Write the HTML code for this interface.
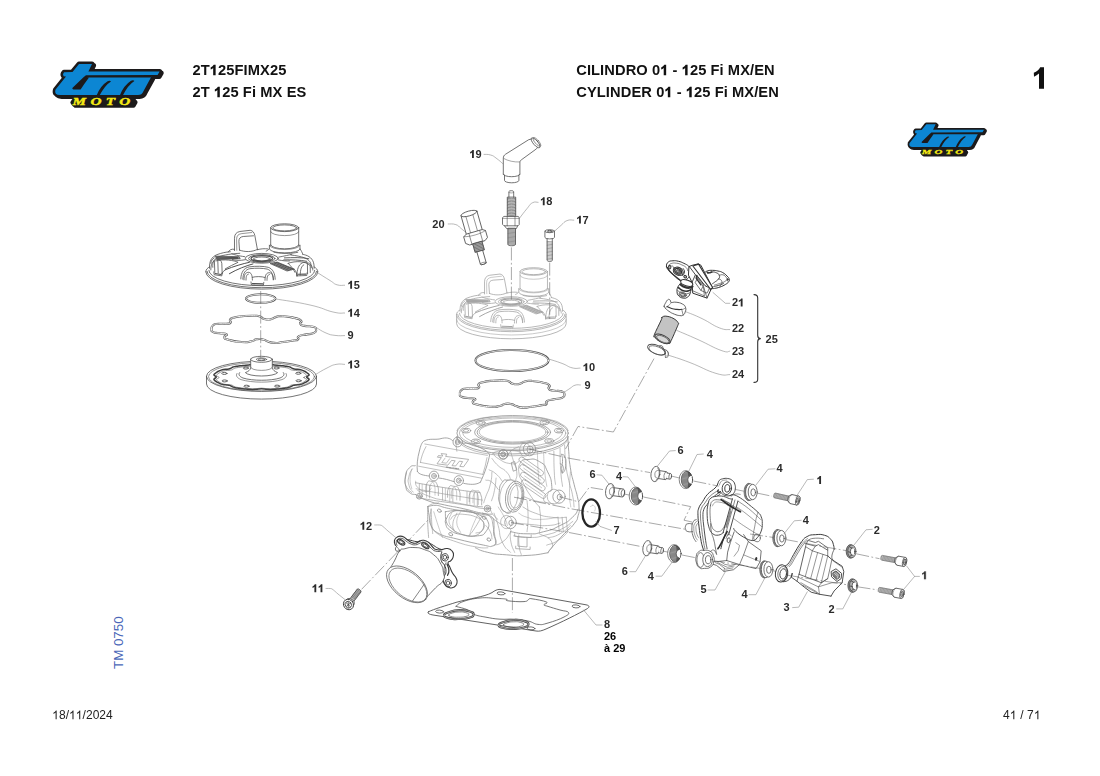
<!DOCTYPE html>
<html>
<head>
<meta charset="utf-8">
<title>CILINDRO 01 - 125 Fi MX/EN</title>
<style>
html,body{margin:0;padding:0;background:#fff;}
body{width:1100px;height:776px;position:relative;overflow:hidden;font-family:"Liberation Sans",sans-serif;color:#000;}
.t{position:absolute;white-space:nowrap;line-height:1;}
.h{font-weight:bold;font-size:14.67px;color:#111;}
.f{font-size:12px;color:#222;}
#pg{font-weight:bold;font-size:30px;color:#111;}
#tm{font-size:13.33px;color:#4a67b8;transform-origin:0 0;transform:rotate(-90deg);}
svg{position:absolute;left:0;top:0;}
.lb{stroke:none;font-family:"Liberation Sans",sans-serif;font-weight:bold;}
</style>
</head>
<body>
<div class="t" id="tm" style="left:112px;top:669px;">TM 0750</div>

<svg width="1100" height="776" viewBox="0 0 1100 776">
<defs>
<g id="logo">
  <!-- black outline + shadow -->
  <g fill="#1c1a1b" stroke="#1c1a1b" stroke-linejoin="round" stroke-linecap="round">
    <path id="lgo" stroke-width="5" d="M31,8 L44,8 L40.4,15.5 L111.6,15.5 L109.6,19 L104,19 L102.9,21.6 L95.3,35.5 Q94,39 90,39 L12,39 Q6,39 7.4,33.8 L18,20.6 L15.6,20.3 Q14.2,18 16,16.2 L24.5,15.9 Z"/>
    <path stroke-width="5" transform="translate(1.6,1.4)" d="M31,8 L44,8 L40.4,15.5 L111.6,15.5 L109.6,19 L104,19 L102.9,21.6 L95.3,35.5 Q94,39 90,39 L12,39 Q6,39 7.4,33.8 L18,20.6 L15.6,20.3 Q14.2,18 16,16.2 L24.5,15.9 Z"/>
    <path stroke-width="4.2" d="M27,43 L84,43 L86,45 L84,48.5 L26,48.5 L24.5,46.5 Z"/>
    <path stroke-width="4.2" transform="translate(1.5,1.2)" d="M27,43 L84,43 L86,45 L84,48.5 L26,48.5 L24.5,46.5 Z"/>
  </g>
  <path fill="#0c86d3" d="M31,8 L44,8 L40.4,15.5 L111.6,15.5 L109.6,19 L104,19 L102.9,21.6 L95.3,35.5 Q94,39 90,39 L12,39 Q6,39 7.4,33.8 L18,20.6 L15.6,20.3 Q14.2,18 16,16.2 L24.5,15.9 Z"/>
  <g fill="#1c1a1b" stroke="#1c1a1b" stroke-linecap="round">
    <path stroke="none" d="M37.8,19.2 L104.5,18.9 L103.2,21.5 L36,21.5 Z"/>
    <path stroke="none" d="M36.3,20.6 L41,21.4 Q36,28 32.6,33.6 L25.5,33.4 Q23.5,33 24.6,31.8 Z"/>
    <path stroke="none" d="M63,25.4 Q57,29 51.5,39.6 L48.6,39.6 Q52,30 59.6,25.2 Q62,24.2 63,25.4 Z"/>
    <path stroke="none" d="M86.4,25 Q80,29 74.8,39.6 L71.8,39.6 Q75.5,29.6 83,24.8 Q85.4,23.8 86.4,25 Z"/>
  </g>
  <g font-family="Liberation Serif, serif" font-weight="bold" font-style="italic" font-size="9.4" fill="#f5ea14" stroke="none">
    <text transform="translate(24.4,48.8) scale(1.62,1)" letter-spacing="2.75" stroke="#f5ea14" stroke-width="0.35">MOTO</text>
  </g>
</g>
</defs>

<path fill="#111" d="M1044,88.7 L1039,88.7 L1039,73.6 Q1036.7,75.7 1034,76.8 L1033.8,72.8 Q1038.4,71 1040.2,67.2 L1044,67.2 Z"/>
<!-- logos -->
<use href="#logo" transform="translate(48,56)"/>
<use href="#logo" transform="translate(904.2,118.4) scale(0.715,0.735)"/>

<!-- DIAGRAM -->
<g id="dia" fill="none" stroke="#505050" stroke-width="0.8" stroke-linecap="round" stroke-linejoin="round">
<g transform="translate(261.8,258.3)"><g stroke="#505050" stroke-width="0.8" fill="none"><path d="M-56,13.6 A56,17.2 0 0 0 56,13.6"/>
<path d="M-54.8,13 A54.8,16.4 0 0 0 54.8,13"/>
<path d="M-53,12 A53,15.4 0 0 0 53,12"/>
<path d="M-56,13.6 C-56,11.2 -54.5,9.8 -52.3,8.6 M56,13.6 C56,11.2 54.5,9.8 52.3,8.6"/>
<path d="M-52.3,10 C-52.6,3 -50.5,-1.2 -45,-3.6 C-40,-5.4 -36,-6.3 -31.5,-6.6"/>
<path d="M52.3,10 C52.6,3.6 50.5,-0.2 45.5,-2.6 C43,-3.6 41.8,-3.8 41,-4"/>
<path d="M-4.4,-8.6 C-1,-9.6 3,-9.8 6,-9.4"/>
<path d="M-49,9 C-49.5,3.5 -47.5,0.4 -43,-1.6 C-38,-3.4 -30,-4.6 -22,-5"/>
<path d="M49.5,9.5 C49.8,4.5 47.6,1.6 43,-0.4 C39,-1.8 34,-2.8 29,-3.3"/>
<ellipse cx="0" cy="0" rx="16.5" ry="4.9"/>
<ellipse cx="0" cy="0.2" rx="13.2" ry="3.9"/>
<ellipse cx="0" cy="0.3" rx="10.8" ry="3" stroke-width="1.1"/>
<ellipse cx="0" cy="0.8" rx="8.6" ry="2.1"/>
<path d="M-7.5,1.6 A8.4,2 0 0 0 7.5,1.6" stroke-width="1.2"/>
<path d="M-17,-1.6 C-24,-2.6 -28,-3.6 -30,-4.6 M17,-1.2 C23,-2.4 27,-3.2 30,-4"/>
<path d="M-16.4,1.4 C-22,2.4 -26,2.4 -29.5,1.2 M16.4,1.6 C21,2.4 25,3 28,2.6"/>
<path d="M-46.5,-2.2 L-22.6,-1.6 L-21.6,0.4 L-44,1.2 Z" fill="#505050" fill-opacity="0.55"/>
<path d="M-45.5,-1.2 L-24,-0.7 M-45,0 L-24,0.1" stroke-width="1.0"/>
<path d="M-47.6,-0.4 C-49.6,0.6 -50.6,2.6 -51,5"/>
<path d="M22.6,-0.4 C31,-0.8 40,-1 47,0.4 M22,1.6 C30,1.4 38,1.6 45,3" stroke-width="0.9"/>
<path d="M-12.4,4 C-19,5.4 -28,8 -36.4,11.4 M-8.8,5.6 C-15,7.2 -25,11 -32.4,15.4" stroke-width="1.0"/>
<path d="M-36.4,11.4 C-38,12.4 -39.4,14 -40.2,15.6"/>
<path d="M-45.9,2.6 C-42,1.6 -37,1.4 -33.4,1.8 C-29,2.2 -25.6,3 -23.7,4 C-28,6 -33,8.4 -36.6,10.6"/>
<path d="M26.3,5 C30,3.6 34.6,3.2 38.2,3.4 C42,3.6 45.6,4.8 47.9,6.9 M26.3,5 C29,7.6 31.6,10.6 33.1,14"/>
<path d="M8.7,5.2 L15.4,3.8 L32.4,10.8 L25.6,12.6 Z" fill="#505050" fill-opacity="0.6"/>
<path d="M10.4,5.4 L27,12 M12.6,4.8 L29.2,11.4 M14.6,4.2 L31,10.8" stroke-width="0.9"/>
<path d="M32.4,10.8 C34,12.6 35,15 35.4,17.4"/>
<path d="M-21,20.6 C-20.8,14 -18,9.6 -12.6,8.6 C-6,7.6 2,7.8 6.4,9 C11,10.4 13.2,15 13.4,21"/>
<path d="M-19,20.9 C-18.8,15 -16.4,11.2 -12,10.4 C-6,9.6 1,9.8 5.4,10.8 C9.4,12 11.4,16 11.6,21.2"/>
<path d="M-17.8,21.6 C-17.8,16.6 -16.6,14.4 -13.6,14 C-10.6,14 -9.5,16.6 -9.4,21.8"/>
<path d="M3.2,22 C3.2,16.8 4.4,14.6 7.4,14.4 C10.4,14.6 11.4,17 11.5,21.6"/>
<path d="M-15.8,21.8 C-15.8,17.6 -15,16 -13.4,15.8 M5.2,22 C5.2,18 6,16.4 7.6,16.2"/>
<path d="M-9.5,19 C-6,18 0,18 3.2,19.2"/>
<path d="M-10.8,23.6 L-10.4,26.6 L1.6,27 L2,24"/>
<path d="M-9.4,25.2 L0.8,25.6" stroke-width="1.1"/>
<path d="M-51,11.6 C-51,5.6 -49,1.8 -45,1.2 C-42,1 -40.4,2.4 -40,5 L-39.6,15.6"/>
<path d="M-47.4,3 L-47,14 M-44,2.2 L-43.6,14.6"/>
<path d="M-48,13.6 L-47.6,16.4 L-40,17.6 L-39.8,14.8"/>
<path d="M-46.6,15.2 L-40.8,16.2" stroke-width="1.1"/>
<path d="M35,18 C35.2,11 36.6,6.6 40.4,4.6 C44,3.2 47.4,4.4 49.4,7 C50.6,9 51,10.4 51,11.8"/>
<path d="M38.4,16.8 C38.6,11 39.6,7.8 42,6.4 M45.6,5.2 L45.8,15.4 M48.4,6.6 L48.5,14.2"/>
<path d="M35,14.8 L35.2,17.6 L45,17.2 L45.2,14.6"/>
<path d="M36.4,16 L44,15.8" stroke-width="1.1"/>
<ellipse cx="22.9" cy="-30.6" rx="14" ry="3.9"/>
<ellipse cx="22.9" cy="-30.4" rx="12" ry="3"/>
<path d="M8.9,-30.6 L8.9,-12.8 M36.9,-30.6 L36.9,-12.8"/>
<path d="M8.9,-26.6 A14,3.9 0 0 0 36.9,-26.6" stroke-width="0.6"/>
<path d="M8.9,-13.4 A14,3.9 0 0 0 36.9,-13.4"/>
<path d="M7.6,-13 L7.6,-9.6 A15.3,4.2 0 0 0 38.2,-9.6 L38.2,-13"/>
<path d="M7.6,-13 A15.3,4.2 0 0 0 38.2,-13" stroke-width="0.6"/>
<path d="M7.6,-9.6 C6.6,-8.4 5.4,-7.6 4.4,-7.2 M38.2,-9.6 C39.4,-7.6 40.6,-5.6 41,-4"/>
<path d="M12,-6.2 C17,-4.6 29,-4.4 36,-6"/>
<path d="M-27.3,-7.7 L-27.3,-20 C-27.3,-24 -25.6,-26 -22,-26.8 L-11.6,-28 C-9,-27.8 -7.6,-25.6 -7,-22.9 L-4.4,-8.9"/>
<path d="M-22.3,-8.2 L-22.9,-17 C-23,-20 -21.4,-21.4 -18.6,-21.8 L-8.3,-22.5"/>
<path d="M-25,-8 L-25.2,-19 C-25.2,-22.6 -23.6,-24 -20.6,-24.6 L-10,-25.8" stroke-width="0.6"/>
<path d="M-22.3,-8.2 C-17,-6.2 -10,-6 -4.4,-8.9"/>
<path d="M-27.3,-9 C-30,-9.6 -32.6,-8.6 -33.6,-6.2"/></g></g>
<ellipse cx="260.7" cy="298.6" rx="14.7" ry="4.25" stroke="#505050" stroke-width="2.0"/><ellipse cx="260.7" cy="298.6" rx="14.7" ry="4.25" stroke="#fff" stroke-width="0.8"/>
<path d="M211.56,329.3 C211.56,327.01 210.85,327.01 213.2,325.21 C215.55,323.41 214.24,324.39 218.6,323.9 C222.96,323.41 222.31,324.12 226.29,323.74 C230.27,323.36 229.24,324.17 230.55,322.76 C231.86,321.34 228.91,321.23 230.22,319.48 C231.53,317.74 230.44,318.61 234.47,317.52 C238.51,316.43 235.89,316.81 242.33,316.21 C248.76,315.61 247.89,315.61 253.78,315.72 C259.67,315.83 256.73,315.5 260,316.54 C263.27,317.57 260.98,317.85 263.6,318.83 C266.22,319.81 265.02,319.48 267.86,319.48 C270.69,319.48 269.27,319.7 272.11,318.83 C274.95,317.96 272.66,317.74 276.37,316.86 C280.07,315.99 277.4,315.88 283.24,316.21 C289.07,316.54 287.98,316.43 293.87,317.85 C299.77,319.26 298.78,318.5 300.91,320.46 C303.04,322.43 299.06,321.94 300.26,323.74 C301.46,325.54 300.26,324.88 304.51,325.86 C308.77,326.85 309.2,325.54 313.02,326.68 C316.84,327.83 315.64,327.23 315.97,329.3 C316.29,331.37 316.95,331.21 314,332.9 C311.06,334.59 312.15,333.28 307.13,334.37 C302.11,335.46 302,334.48 298.95,336.17 C295.89,337.86 299.82,338.03 297.97,339.45 C296.11,340.86 298.29,339.56 293.38,340.43 C288.47,341.3 289.62,341.25 283.24,342.06 C276.86,342.88 279.37,343.1 274.24,342.88 C269.11,342.66 271.62,342.56 267.86,341.41 C264.09,340.26 266.77,340.16 262.95,339.45 C259.13,338.74 260.22,338.68 256.4,339.28 C252.58,339.88 256.46,340.32 251.49,341.25 C246.53,342.17 249.15,342.56 241.51,342.06 C233.87,341.57 234.31,341.41 228.58,339.77 C222.86,338.14 224.98,339.01 224.33,337.16 C223.67,335.3 228.26,335.52 226.62,334.21 C224.98,332.9 223.89,333.94 219.42,333.23 C214.95,332.52 215.82,333.39 213.2,332.08 C210.58,330.77 211.56,331.59 211.56,329.3 Z" stroke="#5c5c5c" stroke-width="2.1" fill="none"/><path d="M211.56,329.3 C211.56,327.01 210.85,327.01 213.2,325.21 C215.55,323.41 214.24,324.39 218.6,323.9 C222.96,323.41 222.31,324.12 226.29,323.74 C230.27,323.36 229.24,324.17 230.55,322.76 C231.86,321.34 228.91,321.23 230.22,319.48 C231.53,317.74 230.44,318.61 234.47,317.52 C238.51,316.43 235.89,316.81 242.33,316.21 C248.76,315.61 247.89,315.61 253.78,315.72 C259.67,315.83 256.73,315.5 260,316.54 C263.27,317.57 260.98,317.85 263.6,318.83 C266.22,319.81 265.02,319.48 267.86,319.48 C270.69,319.48 269.27,319.7 272.11,318.83 C274.95,317.96 272.66,317.74 276.37,316.86 C280.07,315.99 277.4,315.88 283.24,316.21 C289.07,316.54 287.98,316.43 293.87,317.85 C299.77,319.26 298.78,318.5 300.91,320.46 C303.04,322.43 299.06,321.94 300.26,323.74 C301.46,325.54 300.26,324.88 304.51,325.86 C308.77,326.85 309.2,325.54 313.02,326.68 C316.84,327.83 315.64,327.23 315.97,329.3 C316.29,331.37 316.95,331.21 314,332.9 C311.06,334.59 312.15,333.28 307.13,334.37 C302.11,335.46 302,334.48 298.95,336.17 C295.89,337.86 299.82,338.03 297.97,339.45 C296.11,340.86 298.29,339.56 293.38,340.43 C288.47,341.3 289.62,341.25 283.24,342.06 C276.86,342.88 279.37,343.1 274.24,342.88 C269.11,342.66 271.62,342.56 267.86,341.41 C264.09,340.26 266.77,340.16 262.95,339.45 C259.13,338.74 260.22,338.68 256.4,339.28 C252.58,339.88 256.46,340.32 251.49,341.25 C246.53,342.17 249.15,342.56 241.51,342.06 C233.87,341.57 234.31,341.41 228.58,339.77 C222.86,338.14 224.98,339.01 224.33,337.16 C223.67,335.3 228.26,335.52 226.62,334.21 C224.98,332.9 223.89,333.94 219.42,333.23 C214.95,332.52 215.82,333.39 213.2,332.08 C210.58,330.77 211.56,331.59 211.56,329.3 Z" stroke="#fff" stroke-width="0.95" fill="none"/>
<g><ellipse cx="261.5" cy="376.3" rx="55" ry="15.1"/>
<path d="M206.5,376.3 L206.5,384 A55,15.1 0 0 0 316.5,384 L316.5,376.3"/>
<ellipse cx="261.5" cy="376.7" rx="53" ry="14.2" stroke-width="0.6"/>
<path d="M306.61,377.1 C306.61,377.36 307,377.61 307.36,377.88 C307.71,378.15 308.46,378.44 308.74,378.72 C309.03,379 309.13,379.28 309.07,379.56 C309,379.83 308.62,380.1 308.35,380.36 C308.07,380.63 307.77,380.89 307.43,381.15 C307.09,381.41 306.71,381.67 306.31,381.92 C305.9,382.18 305.47,382.43 305,382.67 C304.53,382.92 304.03,383.16 303.5,383.4 C302.97,383.64 302.53,383.89 301.83,384.1 C301.13,384.31 300.27,384.49 299.3,384.64 C298.34,384.78 297.03,384.85 296.05,384.97 C295.06,385.1 294.1,385.2 293.39,385.39 C292.69,385.57 292.28,385.82 291.8,386.08 C291.32,386.33 291.07,386.67 290.51,386.92 C289.95,387.17 289.24,387.39 288.45,387.58 C287.65,387.76 286.67,387.87 285.75,388.01 C284.83,388.15 283.9,388.28 282.95,388.4 C282,388.52 281.04,388.64 280.06,388.74 C279.08,388.85 278.09,388.94 277.09,389.03 C276.09,389.12 275.07,389.2 274.05,389.27 C273.03,389.34 272.02,389.44 270.96,389.46 C269.91,389.48 268.8,389.45 267.72,389.37 C266.64,389.3 265.54,389.11 264.51,389.01 C263.47,388.92 262.5,388.82 261.5,388.82 C260.5,388.82 259.53,388.92 258.49,389.01 C257.46,389.11 256.36,389.3 255.28,389.37 C254.2,389.45 253.09,389.48 252.04,389.46 C250.98,389.44 249.97,389.34 248.95,389.27 C247.93,389.2 246.91,389.12 245.91,389.03 C244.91,388.94 243.92,388.85 242.94,388.74 C241.96,388.64 241,388.52 240.05,388.4 C239.1,388.28 238.17,388.15 237.25,388.01 C236.33,387.87 235.35,387.76 234.55,387.58 C233.76,387.39 233.05,387.17 232.49,386.92 C231.93,386.67 231.68,386.33 231.2,386.08 C230.72,385.82 230.31,385.57 229.61,385.39 C228.9,385.2 227.94,385.1 226.95,384.97 C225.97,384.85 224.66,384.78 223.7,384.64 C222.73,384.49 221.87,384.31 221.17,384.1 C220.47,383.89 220.03,383.64 219.5,383.4 C218.97,383.16 218.47,382.92 218,382.67 C217.53,382.43 217.1,382.18 216.69,381.92 C216.29,381.67 215.91,381.41 215.57,381.15 C215.23,380.89 214.93,380.63 214.65,380.36 C214.38,380.1 214,379.83 213.93,379.56 C213.87,379.28 213.97,379 214.26,378.72 C214.54,378.44 215.29,378.15 215.64,377.88 C216,377.61 216.4,377.36 216.4,377.1 C216.4,376.84 216,376.59 215.64,376.32 C215.29,376.05 214.54,375.76 214.26,375.48 C213.97,375.2 213.87,374.92 213.93,374.64 C214,374.37 214.38,374.1 214.65,373.84 C214.93,373.57 215.23,373.31 215.57,373.05 C215.91,372.79 216.29,372.53 216.69,372.28 C217.1,372.02 217.53,371.77 218,371.53 C218.47,371.28 218.97,371.04 219.5,370.8 C220.03,370.56 220.47,370.31 221.17,370.1 C221.87,369.89 222.73,369.71 223.7,369.56 C224.66,369.42 225.97,369.35 226.95,369.23 C227.94,369.1 228.9,369 229.61,368.81 C230.31,368.63 230.72,368.38 231.2,368.12 C231.68,367.87 231.93,367.53 232.49,367.28 C233.05,367.03 233.76,366.81 234.55,366.62 C235.35,366.44 236.33,366.33 237.25,366.19 C238.17,366.05 239.1,365.92 240.05,365.8 C241,365.68 241.96,365.56 242.94,365.46 C243.92,365.35 244.91,365.26 245.91,365.17 C246.91,365.08 247.93,365 248.95,364.93 C249.97,364.86 250.98,364.76 252.04,364.74 C253.09,364.72 254.2,364.75 255.28,364.83 C256.36,364.9 257.46,365.09 258.49,365.19 C259.53,365.28 260.5,365.38 261.5,365.38 C262.5,365.38 263.47,365.28 264.51,365.19 C265.54,365.09 266.64,364.9 267.72,364.83 C268.8,364.75 269.91,364.72 270.96,364.74 C272.02,364.76 273.03,364.86 274.05,364.93 C275.07,365 276.09,365.08 277.09,365.17 C278.09,365.26 279.08,365.35 280.06,365.46 C281.04,365.56 282,365.68 282.95,365.8 C283.9,365.92 284.83,366.05 285.75,366.19 C286.67,366.33 287.65,366.44 288.45,366.62 C289.24,366.81 289.95,367.03 290.51,367.28 C291.07,367.53 291.32,367.87 291.8,368.12 C292.28,368.38 292.69,368.63 293.39,368.81 C294.1,369 295.06,369.1 296.05,369.23 C297.03,369.35 298.34,369.42 299.3,369.56 C300.27,369.71 301.13,369.89 301.83,370.1 C302.53,370.31 302.97,370.56 303.5,370.8 C304.03,371.04 304.53,371.28 305,371.53 C305.47,371.77 305.9,372.02 306.31,372.28 C306.71,372.53 307.09,372.79 307.43,373.05 C307.77,373.31 308.07,373.57 308.35,373.84 C308.62,374.1 309,374.37 309.07,374.64 C309.13,374.92 309.03,375.2 308.74,375.48 C308.46,375.76 307.71,376.05 307.36,376.32 C307,376.59 306.61,376.84 306.61,377.1 Z" stroke-width="1.5" stroke="#3f3f3f"/>
<path d="M303.82,377.5 C303.82,377.74 304.25,377.97 304.65,378.21 C305.04,378.46 305.87,378.73 306.19,378.98 C306.52,379.24 306.66,379.51 306.62,379.76 C306.57,380.02 306.19,380.26 305.93,380.5 C305.67,380.75 305.38,380.99 305.06,381.23 C304.74,381.47 304.38,381.71 304,381.94 C303.61,382.17 303.2,382.4 302.76,382.63 C302.31,382.86 301.84,383.08 301.34,383.3 C300.84,383.52 300.43,383.76 299.75,383.94 C299.07,384.13 298.22,384.3 297.26,384.42 C296.31,384.54 294.98,384.59 294.01,384.69 C293.04,384.79 292.09,384.88 291.42,385.05 C290.76,385.21 290.42,385.45 290.01,385.7 C289.6,385.94 289.44,386.28 288.94,386.52 C288.45,386.76 287.8,386.97 287.06,387.15 C286.32,387.32 285.37,387.42 284.5,387.55 C283.63,387.67 282.74,387.79 281.85,387.9 C280.95,388.02 280.03,388.12 279.1,388.22 C278.18,388.31 277.24,388.4 276.29,388.48 C275.34,388.57 274.37,388.64 273.41,388.7 C272.44,388.77 271.48,388.87 270.47,388.88 C269.47,388.89 268.41,388.85 267.38,388.77 C266.36,388.69 265.31,388.48 264.33,388.38 C263.35,388.28 262.44,388.17 261.5,388.17 C260.56,388.17 259.65,388.28 258.67,388.38 C257.69,388.48 256.64,388.69 255.62,388.77 C254.59,388.85 253.53,388.89 252.53,388.88 C251.52,388.87 250.56,388.77 249.59,388.7 C248.63,388.64 247.66,388.57 246.71,388.48 C245.76,388.4 244.82,388.31 243.9,388.22 C242.97,388.12 242.05,388.02 241.15,387.9 C240.26,387.79 239.37,387.67 238.5,387.55 C237.63,387.42 236.68,387.32 235.94,387.15 C235.2,386.97 234.55,386.76 234.06,386.52 C233.56,386.28 233.4,385.94 232.99,385.7 C232.58,385.45 232.24,385.21 231.58,385.05 C230.91,384.88 229.96,384.79 228.99,384.69 C228.02,384.59 226.69,384.54 225.74,384.42 C224.78,384.3 223.93,384.13 223.25,383.94 C222.57,383.76 222.16,383.52 221.66,383.3 C221.16,383.08 220.69,382.86 220.24,382.63 C219.8,382.4 219.39,382.17 219,381.94 C218.62,381.71 218.26,381.47 217.94,381.23 C217.62,380.99 217.33,380.75 217.07,380.5 C216.81,380.26 216.43,380.02 216.38,379.76 C216.34,379.51 216.48,379.24 216.81,378.98 C217.13,378.73 217.96,378.46 218.35,378.21 C218.75,377.97 219.18,377.74 219.18,377.5 C219.18,377.26 218.75,377.03 218.35,376.79 C217.96,376.54 217.13,376.27 216.81,376.02 C216.48,375.76 216.34,375.49 216.38,375.24 C216.43,374.98 216.81,374.74 217.07,374.5 C217.33,374.25 217.62,374.01 217.94,373.77 C218.26,373.53 218.62,373.29 219,373.06 C219.39,372.83 219.8,372.6 220.24,372.37 C220.69,372.14 221.16,371.92 221.66,371.7 C222.16,371.48 222.57,371.24 223.25,371.06 C223.93,370.87 224.78,370.7 225.74,370.58 C226.69,370.46 228.02,370.41 228.99,370.31 C229.96,370.21 230.91,370.12 231.58,369.95 C232.24,369.79 232.58,369.55 232.99,369.3 C233.4,369.06 233.56,368.72 234.06,368.48 C234.55,368.24 235.2,368.03 235.94,367.85 C236.68,367.68 237.63,367.58 238.5,367.45 C239.37,367.33 240.26,367.21 241.15,367.1 C242.05,366.98 242.97,366.88 243.9,366.78 C244.82,366.69 245.76,366.6 246.71,366.52 C247.66,366.43 248.63,366.36 249.59,366.3 C250.56,366.23 251.52,366.13 252.53,366.12 C253.53,366.11 254.59,366.15 255.62,366.23 C256.64,366.31 257.69,366.52 258.67,366.62 C259.65,366.72 260.56,366.83 261.5,366.83 C262.44,366.83 263.35,366.72 264.33,366.62 C265.31,366.52 266.36,366.31 267.38,366.23 C268.41,366.15 269.47,366.11 270.47,366.12 C271.48,366.13 272.44,366.23 273.41,366.3 C274.37,366.36 275.34,366.43 276.29,366.52 C277.24,366.6 278.18,366.69 279.1,366.78 C280.03,366.88 280.95,366.98 281.85,367.1 C282.74,367.21 283.63,367.33 284.5,367.45 C285.37,367.58 286.32,367.68 287.06,367.85 C287.8,368.03 288.45,368.24 288.94,368.48 C289.44,368.72 289.6,369.06 290.01,369.3 C290.42,369.55 290.76,369.79 291.42,369.95 C292.09,370.12 293.04,370.21 294.01,370.31 C294.98,370.41 296.31,370.46 297.26,370.58 C298.22,370.7 299.07,370.87 299.75,371.06 C300.43,371.24 300.84,371.48 301.34,371.7 C301.84,371.92 302.31,372.14 302.76,372.37 C303.2,372.6 303.61,372.83 304,373.06 C304.38,373.29 304.74,373.53 305.06,373.77 C305.38,374.01 305.67,374.25 305.93,374.5 C306.19,374.74 306.57,374.98 306.62,375.24 C306.66,375.49 306.52,375.76 306.19,376.02 C305.87,376.27 305.04,376.54 304.65,376.79 C304.25,377.03 303.82,377.26 303.82,377.5 Z" stroke-width="0.6"/>
<ellipse cx="298.59" cy="380.77" rx="2.6" ry="1" stroke-width="0.9"/>
<ellipse cx="277.13" cy="386.12" rx="2.6" ry="1" stroke-width="0.9"/>
<ellipse cx="246.52" cy="386.19" rx="2.6" ry="1" stroke-width="0.9"/>
<ellipse cx="224.68" cy="380.93" rx="2.6" ry="1" stroke-width="0.9"/>
<ellipse cx="224.41" cy="373.43" rx="2.6" ry="1" stroke-width="0.9"/>
<ellipse cx="245.87" cy="368.08" rx="2.6" ry="1" stroke-width="0.9"/>
<ellipse cx="276.48" cy="368.01" rx="2.6" ry="1" stroke-width="0.9"/>
<ellipse cx="298.32" cy="373.27" rx="2.6" ry="1" stroke-width="0.9"/>
<path d="M239.6,372.6 C238,374.4 239.4,376.6 243,378 C252,381 271,381 280,378 C283.6,376.6 285,374.4 283.4,372.6"/>
<path d="M237,373.4 C235.4,375.6 237,378 241,379.6 C252,383 271,383 282,379.6 C286,378 287.6,375.6 286,373.4" stroke-width="0.6"/>
<path d="M250.7,359.3 L250.7,367.6 C250.6,370 248,371.6 245.4,372.6 A16.4,4.2 0 0 0 277.6,372.6 C275,371.6 272.4,370 272.3,367.6 L272.3,359.3 Z" fill="#fff"/>
<ellipse cx="261.5" cy="359.3" rx="10.8" ry="3" fill="#fff"/>
<ellipse cx="261.5" cy="359.3" rx="5.2" ry="1.4"/>
<ellipse cx="261.5" cy="359.4" rx="3.2" ry="0.8" stroke-width="0.6"/>
<path d="M250.7,367.4 A10.8,3 0 0 0 272.3,367.4" stroke-width="0.6"/></g>
<path d="M260.7,291 L260.7,357.7" stroke="#6e6e6e" stroke-width="0.6" stroke-dasharray="13 2.4 1.8 2.4" stroke-linecap="butt"/>
<path d="M317.4,272.6 C320.76,274.71 324.77,277.25 330,280.5 C335.23,283.75 333.11,283.55 337,284.8 C340.89,286.05 342.57,285.09 344.6,285.2" stroke="#8a8a8a" stroke-width="0.6"/>
<path d="M275.4,298.9 C284.63,300.53 294.64,301.51 310,305 C325.36,308.49 323.77,309.87 333,312 C342.23,314.13 341.51,312.73 344.6,313" stroke="#8a8a8a" stroke-width="0.6"/>
<path d="M316.4,327.6 C318.96,329.04 321.04,330.92 326,333 C330.96,335.08 330.04,334.71 335,335.4 C339.96,336.09 342.04,335.55 344.6,335.6" stroke="#8a8a8a" stroke-width="0.6"/>
<path d="M316.4,374 C319.23,372.4 321.77,370.56 327,368 C332.23,365.44 331.31,365.36 336,364.4 C340.69,363.44 342.31,364.4 344.6,364.4" stroke="#8a8a8a" stroke-width="0.6"/>




<g stroke="#969696" stroke-width="0.85" fill="none"><ellipse cx="512.6" cy="433.11" rx="55.7" ry="17.54"/>
<ellipse cx="512.6" cy="433.11" rx="53.23" ry="16.3" stroke-width="0.6"/>
<ellipse cx="512.6" cy="432.69" rx="49.93" ry="14.65" stroke-width="0.6"/>
<ellipse cx="512.6" cy="432.28" rx="37.96" ry="11.76"/>
<ellipse cx="512.6" cy="432.28" rx="35.49" ry="10.73"/>
<ellipse cx="512.6" cy="432.08" rx="33.42" ry="9.9" stroke-width="0.6"/>
<path d="M456.89,436.41 A55.7,17.54 0 0 0 568.3,436.41"/>
<path d="M457.51,438.88 A55.09,17.12 0 0 0 567.68,438.88" stroke-width="0.6"/>
<ellipse cx="466.18" cy="430.63" rx="4.54" ry="2.27"/>
<ellipse cx="466.18" cy="430.63" rx="2.48" ry="1.24" stroke-width="0.6"/>
<ellipse cx="480.62" cy="422.79" rx="4.54" ry="2.27"/>
<ellipse cx="480.62" cy="422.79" rx="2.48" ry="1.24" stroke-width="0.6"/>
<ellipse cx="544.58" cy="422.38" rx="4.54" ry="2.27"/>
<ellipse cx="544.58" cy="422.38" rx="2.48" ry="1.24" stroke-width="0.6"/>
<ellipse cx="559.02" cy="430.63" rx="4.54" ry="2.27"/>
<ellipse cx="559.02" cy="430.63" rx="2.48" ry="1.24" stroke-width="0.6"/>
<ellipse cx="549.32" cy="440.95" rx="4.54" ry="2.27"/>
<ellipse cx="549.32" cy="440.95" rx="2.48" ry="1.24" stroke-width="0.6"/>
<ellipse cx="475.87" cy="441.36" rx="4.54" ry="2.27"/>
<ellipse cx="475.87" cy="441.36" rx="2.48" ry="1.24" stroke-width="0.6"/>
<path d="M456.89,430.63 C458.96,428.57 456.55,428.22 463.08,424.44 C469.62,420.66 466.87,421.83 476.49,419.28 C486.12,416.74 486.81,417.63 491.97,416.81" stroke-width="0.6"/>
<path d="M568.3,430.63 C566.24,428.57 568.65,428.22 562.11,424.44 C555.58,420.66 558.33,421.83 548.7,419.28 C539.08,416.74 538.39,417.63 533.23,416.81" stroke-width="0.6"/>
<path d="M567.89,436.82 C568.17,441.63 567.89,440.95 568.72,451.26 C569.54,461.58 568.58,456.76 570.37,467.77 C572.15,478.77 571.74,474.64 574.08,484.27 C576.42,493.9 575.73,489.09 577.38,496.65 C579.03,504.22 578.76,500.78 579.03,506.97 C579.31,513.16 579.86,509.58 578.21,515.22 C576.56,520.86 578.76,517.7 574.08,523.88 C569.4,530.07 570.92,526.7 564.18,533.79 C557.44,540.87 559.23,538.95 553.86,545.14 C548.5,551.32 550.01,549.95 548.08,552.36"/>
<path d="M564.59,445.07 C565,451.26 564.45,451.95 565.83,463.64 C567.2,475.33 566.52,469.83 568.72,480.15 C570.92,490.46 570.64,485.65 572.43,494.59 C574.22,503.53 573.53,502.84 574.08,506.97" stroke-width="0.6"/>
<path d="M553.86,451.26 C554,458.14 553.72,460.89 554.27,471.89 C554.82,482.9 555.1,480.15 555.51,484.27" stroke-width="0.6"/>
<path d="M560.05,448.17 C560.26,455.39 559.84,457.11 560.67,469.83 C561.49,482.55 561.91,480.83 562.53,486.34" stroke-width="0.6"/>
<path d="M561.7,454.36 C562.66,455.05 563.21,453.33 564.59,456.42 C565.96,459.52 566.1,458.48 565.83,463.64 C565.55,468.8 565.28,469.83 563.76,471.89 C562.25,473.96 561.7,473.27 561.29,469.83 C560.88,466.39 562.39,466.74 562.53,461.58 C562.66,456.42 561.98,456.76 561.7,454.36" stroke-width="0.9"/>
<path d="M560.05,463.64 C561.08,464.67 562.46,463.64 563.15,466.74 C563.83,469.83 562.46,470.86 562.11,472.93" stroke-width="0.9"/>
<ellipse cx="529.52" cy="449.2" rx="6.19" ry="6.6"/>
<ellipse cx="530.14" cy="449.61" rx="3.09" ry="3.51"/>
<ellipse cx="524.98" cy="449.61" rx="5.36" ry="6.6" stroke-width="0.6"/>
<path d="M518.79,446.72 C516.04,448.24 514.66,447.69 510.54,451.26 C506.41,454.84 507.78,455.39 506.41,457.45" stroke-width="0.6"/>
<ellipse cx="559.02" cy="496.65" rx="6.19" ry="6.6"/>
<ellipse cx="559.64" cy="497.06" rx="2.48" ry="2.89"/>
<ellipse cx="553.86" cy="496.65" rx="6.6" ry="7.43" stroke-width="0.6"/>
<path d="M548.7,491.49 C546.98,493.9 543.55,494.59 543.55,498.71 C543.55,502.84 546.98,502.15 548.7,503.87" stroke-width="0.6"/>
<ellipse cx="510.54" cy="522.44" rx="5.78" ry="6.19"/>
<ellipse cx="511.15" cy="522.85" rx="2.27" ry="2.68"/>
<ellipse cx="506.41" cy="522.03" rx="5.78" ry="6.6" stroke-width="0.6"/>
<path d="M522.99,457.37 L542.49,470.97 A2.6,2.6 0 0 1 539.51,475.23 L520.01,461.63 A2.6,2.6 0 0 1 522.99,457.37 Z" stroke-width="0.7"/>
<path d="M523,460.7 L540,472.5" stroke-width="0.5"/>
<path d="M523.79,464.97 L543.29,478.57 A2.6,2.6 0 0 1 540.31,482.83 L520.81,469.23 A2.6,2.6 0 0 1 523.79,464.97 Z" stroke-width="0.7"/>
<path d="M523.8,468.3 L540.8,480.1" stroke-width="0.5"/>
<path d="M524.59,472.57 L544.09,486.17 A2.6,2.6 0 0 1 541.11,490.43 L521.61,476.83 A2.6,2.6 0 0 1 524.59,472.57 Z" stroke-width="0.7"/>
<path d="M524.6,475.9 L541.6,487.7" stroke-width="0.5"/>
<path d="M525.39,480.17 L544.89,493.77 A2.6,2.6 0 0 1 541.91,498.03 L522.41,484.43 A2.6,2.6 0 0 1 525.39,480.17 Z" stroke-width="0.7"/>
<path d="M525.4,483.5 L542.4,495.3" stroke-width="0.5"/>
<path d="M520.85,461.58 C522.91,460.89 520.85,459.52 527.04,459.52 C533.23,459.52 532.54,457.45 539.42,461.58 C546.3,465.7 543.55,463.64 547.67,471.89 C551.8,480.15 551.11,479.8 551.8,486.34 C552.49,492.87 550.42,489.77 549.73,491.49"/>
<path d="M520.85,461.58 C520.16,465.02 517.76,464.33 518.79,471.89 C519.82,479.46 519.82,476.02 523.95,484.27 C528.07,492.53 526.01,489.09 531.17,496.65 C536.32,504.22 536.67,503.53 539.42,506.97" stroke-width="0.6"/>
<ellipse cx="514.66" cy="496.65" rx="9.08" ry="15.68" transform="rotate(8 514.66 496.65)"/>
<ellipse cx="515.28" cy="496.65" rx="7.43" ry="13.62" transform="rotate(8 515.28 496.65)"/>
<ellipse cx="515.9" cy="496.65" rx="5.78" ry="11.55" transform="rotate(8 515.9 496.65)" stroke-width="0.6"/>
<ellipse cx="508.88" cy="496.24" rx="9.08" ry="16.51" transform="rotate(8 508.88 496.24)" stroke-width="0.6"/>
<path d="M507.44,480.15 C505.72,480.83 505.03,478.08 502.28,482.21 C499.53,486.34 499.88,484.96 499.19,492.53 C498.5,500.09 498.16,498.37 500.22,504.9 C502.28,511.44 501.94,509.51 505.38,512.13 C508.82,514.74 508.82,512.54 510.54,512.74"/>
<path d="M515.69,481.18 C513.97,480.7 513.77,479.8 510.54,479.73 C507.3,479.67 507.51,480.56 506,480.97" stroke-width="0.6"/>
<path d="M493.62,453.33 C495.13,455.05 492.52,455.05 498.16,458.48 C503.8,461.92 503.66,462.61 510.54,463.64 C517.41,464.67 516.04,462.27 518.79,461.58" stroke-width="0.6"/>
<path d="M491.97,458.48 C494.03,460.89 493.34,461.23 498.16,465.7 C502.97,470.17 502.28,467.42 506.41,471.89 C510.54,476.36 509.16,476.71 510.54,479.11" stroke-width="0.6"/>
<path d="M489.08,469.83 C491.42,471.21 491.69,470.17 496.09,473.96 C500.49,477.74 500.22,478.77 502.28,481.18" stroke-width="0.6"/>
<path d="M485.78,480.15 C487.84,480.83 487.84,479.11 491.97,482.21 C496.09,485.3 496.09,487.02 498.16,489.43" stroke-width="0.6"/>
<path d="M510.54,451.26 C511.57,454.7 511.57,454.7 513.63,461.58 C515.69,468.46 516.04,465.7 516.72,471.89 C517.41,478.08 516.04,477.4 515.69,480.15" stroke-width="0.6"/>
<path d="M511.57,462.61 L514.66,461.58 L516.72,469.83 L513.63,471.07 Z" stroke-width="0.8"/>
<ellipse cx="503.31" cy="454.36" rx="4.54" ry="4.54"/>
<ellipse cx="503.31" cy="454.36" rx="2.27" ry="2.27" stroke-width="0.6"/>
<path d="M417.4,471.6 C416.6,466 417.4,458 419.4,451 C420.6,445.6 422,442 424.2,440.9 C430,438 436,440.2 441,438.6 C446,437.2 450,438 452.6,440.6 M462.6,443.2 C468,442.8 472,443.6 476.3,446 C480,447.6 486,449.6 489.7,454.3 C488.6,462 484.4,474 480.4,482.2"/>
<path d="M417.4,471.6 C419,474.6 424,475.4 429,476 M439,478 C444,478.6 449,480 453.8,481.6 M463.8,483.4 C470,484.6 476,485.2 480.4,482.2"/>
<path d="M424.8,444 L487.4,455.4 M418.6,466.2 L481.6,478.2 M420.4,462.4 L482.8,474.4" stroke-width="0.6"/>
<path d="M426,446.6 C423,452 421,458 420.4,462.4 M487,457.6 C486,463 484.6,469 482.8,474.4" stroke-width="0.6"/>
<ellipse cx="457.7" cy="442" rx="4.7" ry="4.9"/>
<ellipse cx="457.7" cy="442" rx="2.4" ry="2.5"/>
<ellipse cx="457.7" cy="442" rx="1.1" ry="1.2" stroke-width="0.6"/>
<ellipse cx="434" cy="476" rx="4.7" ry="4.9"/>
<ellipse cx="434" cy="476" rx="2.4" ry="2.5"/>
<ellipse cx="434" cy="476" rx="1.1" ry="1.2" stroke-width="0.6"/>
<ellipse cx="458.8" cy="480.6" rx="4.7" ry="4.9"/>
<ellipse cx="458.8" cy="480.6" rx="2.4" ry="2.5"/>
<ellipse cx="458.8" cy="480.6" rx="1.1" ry="1.2" stroke-width="0.6"/>
<ellipse cx="503.3" cy="454.4" rx="4.7" ry="4.9"/>
<ellipse cx="503.3" cy="454.4" rx="2.4" ry="2.5"/>
<ellipse cx="503.3" cy="454.4" rx="1.1" ry="1.2" stroke-width="0.6"/>
<g><path d="M441.6,453.6 L446.8,454.2 L445.6,456.4 L468.6,459.4 L467.8,460.8 L463.6,466.8 L459.8,466.4 L462.6,461.6 L459.4,461.2 L455.6,466 L452,465.6 L455.2,460.8 L451.6,460.4 L447.8,465.2 L437,463.8 L441.4,457.6 L437.4,457.2 L438.4,455.6 L442.4,456 Z" stroke-width="0.7"/>
<path d="M445,458.2 L441.8,462.6 L446.4,463.2 L449.6,458.8" stroke-width="0.6"/>
<path d="M446.4,467.2 L458.6,468.8" stroke-width="1.2" stroke-dasharray="1.8 1.2"/></g>
<path d="M415.22,465.7 C413.29,466.39 412.61,464.33 409.44,467.77 C406.28,471.21 406.97,469.83 405.73,476.02 C404.49,482.21 404.49,480.83 405.73,486.34 C406.97,491.84 406.14,489.77 409.44,492.53 C412.74,495.28 413.57,493.9 415.63,494.59"/>
<path d="M412.54,468.8 C411.37,471.21 410.2,470.52 409.03,476.02 C407.86,481.52 407.65,479.94 409.03,485.3 C410.4,490.67 411.78,489.84 413.16,492.11" stroke-width="0.6"/>
<path d="M415.63,481.18 C416.32,483.24 414.26,483.93 417.69,487.37 C421.13,490.81 421.48,491.15 425.95,491.49 C430.42,491.84 429.39,489.43 431.1,488.4" stroke-width="0.6"/>
<path d="M415.63,494.59 C419.76,496.65 418.38,497.34 428.01,500.78 C437.64,504.22 432.82,502.29 444.52,504.9 C456.21,507.52 450.7,505.87 463.08,508.62 C475.46,511.37 472.02,511.3 481.65,513.16 C491.28,515.01 488.53,513.84 491.97,514.19"/>
<path d="M417.69,490.46 C421.82,492.53 420.45,493.21 430.07,496.65 C439.7,500.09 434.89,498.16 446.58,500.78 C458.27,503.39 452.77,501.88 465.15,504.49 C477.53,507.1 475.32,507.79 483.71,508.62 C492.1,509.44 488.12,507.52 490.32,506.97" stroke-width="0.6"/>
<path d="M425.95,492.53 C426.29,489.43 424.92,486.89 426.98,483.24 C429.04,479.6 428.7,481.04 432.14,481.59 C435.57,482.14 435.23,480.22 437.29,484.89 C439.36,489.57 437.98,492.04 438.33,495.62" stroke-width="0.7"/>
<path d="M429.66,493.56 C429.94,490.67 428.97,487.92 430.49,484.89 C432,481.87 432.69,481.04 434.2,484.48 C435.71,487.92 434.75,491.63 435.02,495.21" stroke-width="0.5"/>
<path d="M447.61,497.27 C447.95,494.18 446.58,491.63 448.64,487.99 C450.7,484.34 450.36,485.79 453.8,486.34 C457.24,486.89 456.89,484.96 458.96,489.64 C461.02,494.31 459.64,496.79 459.99,500.37" stroke-width="0.7"/>
<path d="M451.32,498.3 C451.6,495.41 450.64,492.66 452.15,489.64 C453.66,486.61 454.35,485.79 455.86,489.22 C457.38,492.66 456.41,496.38 456.69,499.95" stroke-width="0.5"/>
<path d="M469.27,501.81 C469.62,498.71 468.24,496.17 470.3,492.53 C472.37,488.88 472.02,490.32 475.46,490.87 C478.9,491.42 478.56,489.5 480.62,494.18 C482.68,498.85 481.31,501.33 481.65,504.9" stroke-width="0.7"/>
<path d="M472.99,502.84 C473.26,499.95 472.3,497.2 473.81,494.18 C475.32,491.15 476.01,490.32 477.53,493.76 C479.04,497.2 478.08,500.92 478.35,504.49" stroke-width="0.5"/>
<ellipse cx="419.34" cy="496.24" rx="2.89" ry="2.89"/>
<ellipse cx="419.34" cy="496.24" rx="1.24" ry="1.24" stroke-width="0.6"/>
<ellipse cx="487.43" cy="508.62" rx="3.3" ry="3.3"/>
<ellipse cx="487.43" cy="508.62" rx="1.65" ry="1.65"/>
<ellipse cx="487.43" cy="508.62" rx="0.72" ry="0.72" stroke-width="0.6"/>
<path d="M491.97,471.89 C491.42,476.02 492.38,476.02 490.32,484.27 C488.25,492.53 487.98,490.46 485.78,496.65 C483.58,502.84 484.4,500.78 483.71,502.84" stroke-width="0.6"/>
<path d="M496.09,478.08 C495.54,482.21 495.96,482.9 494.44,490.46 C492.93,498.03 492.52,497.34 491.55,500.78" stroke-width="0.6"/>
<path d="M428.01,506.55 C429.94,506.27 431.93,504.98 436.26,505.32 C440.6,505.65 440.32,506.65 446.58,508 C452.84,509.35 454.9,509.65 463.08,511.09 C471.27,512.54 474.91,512.74 481.65,514.19 C488.39,515.63 489.08,514.64 491.97,517.28 C494.86,519.93 493.65,521.68 494.03,525.54 C494.42,529.39 493.14,529.94 493.62,533.79 C494.1,537.64 496.48,539.15 496.09,542.04 C495.71,544.93 494.86,545.44 491.97,546.17 C489.08,546.89 491.9,546.82 483.71,545.14 C475.53,543.45 467.24,541.59 456.89,538.95 C446.54,536.3 445.37,536.92 439.36,533.79 C433.34,530.66 433.51,529.87 431.1,525.54 C428.7,521.2 429.76,519.65 429.04,515.22 C428.32,510.79 428.25,508.58 428.01,506.55"/>
<path d="M431.1,509.03 C430.96,511.92 429.28,515.87 430.49,521.41 C431.69,526.95 430.1,527.94 436.26,532.76 C442.42,537.57 447.27,538.67 456.89,542.04 C466.52,545.41 470.3,545.85 477.53,547.2 C484.75,548.55 485.43,547.67 487.84,547.82" stroke-width="0.6"/>
<path d="M446.58,518.31 C447.95,516.66 447.33,514.05 451.74,512.13 C456.14,510.2 456.21,510.54 463.08,511.09 C469.96,511.64 470.92,511.44 477.53,514.19 C484.13,516.94 485.64,516.73 487.84,521.41 C490.04,526.09 488.53,527.87 485.78,531.72 C483.03,535.58 483.58,535.03 477.53,535.85 C471.47,536.68 470.24,536.19 463.08,534.82 C455.93,533.44 455.38,533.72 450.7,530.69 C446.03,527.67 446.65,526.77 445.55,523.47 C444.45,520.17 446.3,519.69 446.58,518.31"/>
<path d="M450.7,519.35 C451.8,518.25 451.25,516.54 454.83,515.22 C458.41,513.9 458.34,513.84 464.11,514.39 C469.89,514.94 471.27,514.97 476.49,517.28 C481.72,519.59 482.23,519.48 483.71,523.06 C485.2,526.64 484.15,528.05 482.06,530.69 C479.97,533.33 477.53,532.36 475.87,532.96" stroke-width="0.6"/>
<path d="M456.89,513.16 C455.52,517.28 452.77,518.8 452.77,525.54 C452.77,532.27 455.52,530.76 456.89,533.38" stroke-width="0.6"/>
<path d="M481.65,516.25 C479.24,520.38 478.56,522.3 474.43,528.63 C470.3,534.96 470.99,533.03 469.27,535.23" stroke-width="0.6"/>
<ellipse cx="439.36" cy="510.68" rx="2.06" ry="1.44" transform="rotate(25 439.36 510.68)"/>
<ellipse cx="484.13" cy="517.7" rx="2.06" ry="1.44" transform="rotate(25 484.13 517.7)"/>
<ellipse cx="450.7" cy="534.2" rx="2.06" ry="1.44" transform="rotate(25 450.7 534.2)"/>
<ellipse cx="488.87" cy="539.56" rx="2.06" ry="1.44" transform="rotate(25 488.87 539.56)"/>
<path d="M485.78,525.54 C487.29,527.6 488.25,527.25 490.32,531.72 C492.38,536.19 491.42,536.54 491.97,538.95" stroke-width="0.6"/>
<path d="M475.46,547.82 C479.59,549.33 477.53,550.02 487.84,552.36 C498.16,554.69 493.34,553.8 506.41,554.83 C519.48,555.86 513.15,556.14 527.04,555.45 C540.93,554.76 541.07,553.66 548.08,552.77"/>
<path d="M494.03,545.14 C496.78,544.1 497.13,545.82 502.28,542.04 C507.44,538.26 506.75,538.05 509.5,533.79 C512.25,529.52 510.19,530.76 510.54,529.25" stroke-width="0.6"/>
<path d="M491.97,517.28 C494.03,519 494.03,519.69 498.16,522.44 C502.28,525.19 502.28,524.5 504.35,525.54" stroke-width="0.6"/>
<path d="M510.54,531.72 C516.04,532.41 516.04,533.79 527.04,533.79 C538.04,533.79 532.54,534.48 543.55,531.72 C554.55,528.97 550.42,530.35 560.05,525.54 C569.68,520.72 566.38,522.78 572.43,517.28 C578.48,511.78 576.28,511.78 578.21,509.03"/>
<path d="M513.63,535.85 C518.79,536.4 518.44,537.78 529.1,537.5 C539.76,537.23 534.95,537.78 545.61,535.03 C556.27,532.27 552,533.79 561.08,529.25 C570.16,524.71 568.92,524.02 572.84,521.41" stroke-width="0.6"/>
<path d="M510.54,531.72 C510.67,535.16 509.57,535.16 510.95,542.04 C512.32,548.92 513.42,548.92 514.66,552.36" stroke-width="0.6"/>
<path d="M518.79,534.82 C518.93,538.6 518.38,539.63 519.2,546.17 C520.03,552.7 520.58,551.67 521.26,554.42" stroke-width="0.6"/>
<path d="M514.66,533.79 L514.66,536.26 L531.17,537.5 L531.17,535.03" stroke-width="0.7"/>
<path d="M517.96,537.09 L517.96,546.17 L527.04,546.99 L527.04,537.91" stroke-width="0.7"/>
<path d="M515.69,546.17 L515.69,548.64 L530.14,549.47 L530.14,546.99" stroke-width="0.7"/>
<path d="M539.42,533.79 C543.55,536.54 548.91,535.85 551.8,542.04 C554.69,548.23 549.32,548.92 548.08,552.36" stroke-width="0.6"/>
<path d="M548.08,537.91 C552.07,536.54 552.62,537.91 560.05,533.79 C567.48,529.66 566.93,528.29 570.37,525.54" stroke-width="0.6"/>
<path d="M546.64,545.14 C550.42,543.55 550.77,544.86 557.99,540.39 C565.21,535.92 564.86,534.61 568.3,531.72" stroke-width="0.6"/>
<path d="M557.99,517.28 L559.23,531.72" stroke-width="0.6"/>
<path d="M562.11,517.28 L563.35,531.72" stroke-width="0.6"/>
<path d="M566.24,517.28 L567.48,531.72" stroke-width="0.6"/>
<path d="M523.95,496.65 C527.73,498.03 527.38,498.71 535.29,500.78 C543.2,502.84 541.48,501.81 547.67,502.84 C553.86,503.87 551.8,503.53 553.86,503.87" stroke-width="0.6"/>
<path d="M522.91,506.97 C527.04,509.03 525.67,509.72 535.29,513.16 C544.92,516.6 541.48,515.91 551.8,517.28 C562.11,518.66 561.43,517.28 566.24,517.28" stroke-width="0.6"/>
<path d="M516.31,523.06 C521.26,523.54 520.71,523.68 531.17,524.5 C541.62,525.33 538.04,526.02 547.67,525.54 C557.3,525.05 555.92,523.88 560.05,523.06" stroke-width="0.6"/>
<path d="M527.04,500.78 C527.38,506.28 528.07,506.97 528.07,517.28 C528.07,527.6 527.38,526.91 527.04,531.72" stroke-width="0.6"/>
<path d="M539.42,506.97 C539.83,511.78 540.66,513.02 540.66,521.41 C540.66,529.8 539.83,528.56 539.42,532.14" stroke-width="0.6"/>
<path d="M415.46,482.71 C419.93,483.5 422.59,484.05 432.22,485.67 C441.84,487.29 442.27,487.32 451.55,488.76 C460.82,490.21 459.45,490.05 467.01,491.08 C474.57,492.11 476.46,492.22 479.9,492.63" stroke-width="0.7"/>
<path d="M416.11,488.76 C420.75,489.66 424.05,490.4 433.51,492.11 C442.96,493.83 441.92,493.63 451.55,495.21 C461.17,496.79 461.34,496.74 469.59,498.04 C477.84,499.35 479.04,499.55 482.47,500.1" stroke-width="0.6"/>
<path d="M416.75,497.53 C421.22,498.28 424.23,498.92 433.51,500.36 C442.78,501.8 441.92,501.56 451.55,502.94 C461.17,504.31 461.34,504.48 469.59,505.52 C477.84,506.55 479.04,506.46 482.47,506.8" stroke-width="0.7"/>
<path d="M419.33,483.99 L419.33,496.24" stroke-width="0.6"/>
<path d="M429.64,485.54 L429.64,497.91" stroke-width="0.6"/>
<path d="M422.16,484.51 L422.16,496.75" stroke-width="0.5"/>
<path d="M426.55,485.15 L426.55,497.4" stroke-width="0.5"/>
<path d="M442.53,487.86 L442.53,500.1" stroke-width="0.6"/>
<path d="M452.84,489.41 L452.84,501.78" stroke-width="0.6"/>
<path d="M445.36,488.38 L445.36,500.62" stroke-width="0.5"/>
<path d="M449.74,489.02 L449.74,501.26" stroke-width="0.5"/>
<path d="M467.01,491.73 L467.01,503.97" stroke-width="0.6"/>
<path d="M477.32,493.27 L477.32,505.64" stroke-width="0.6"/>
<path d="M469.85,492.24 L469.85,504.48" stroke-width="0.5"/>
<path d="M474.23,492.89 L474.23,505.13" stroke-width="0.5"/>
<path d="M427.71,506.55 C427.71,510.67 427.47,513.76 427.71,522.01 C427.95,530.26 428.37,533.35 428.61,537.47" stroke-width="0.7"/>
<path d="M431.19,509.12 C431.32,512.56 431.29,515.48 431.7,522.01 C432.11,528.54 432.46,530.52 432.73,533.61" stroke-width="0.6"/>
<path d="M433.76,511.7 C435.07,515.82 436.32,520.29 438.66,527.16 C441,534.04 441.49,534.73 442.53,537.47" stroke-width="0.5"/>
<path d="M427.71,506.55 C428.91,505.86 429.3,504.93 432.22,503.97 C435.14,503.01 436.94,503.21 438.66,502.94" stroke-width="0.6"/>
<path d="M445.36,511.7 C448.37,511.4 451.99,510.35 458.25,510.41 C464.5,510.47 466.81,509.85 472.16,511.96 C477.52,514.06 478.48,516.34 481.19,519.43 C483.89,522.53 483.91,522.23 483.76,525.23 C483.61,528.24 483.25,529.76 480.54,532.32 C477.84,534.88 476.83,535.82 472.16,536.19 C467.5,536.55 465.38,535.67 460.57,533.87 C455.76,532.06 454.85,531.22 451.55,528.45 C448.24,525.69 447.84,525.92 446.39,522.01 C444.95,518.1 445.6,514.11 445.36,511.7" stroke-width="0.8"/>
<path d="M451.55,513.25 C450.86,515.58 448.28,517.61 448.97,522.01 C449.66,526.41 452.75,527.68 454.12,529.74" stroke-width="0.5"/>
<path d="M460.57,511.7 C459.54,514.45 456.7,516.51 456.7,522.01 C456.7,527.51 459.54,529.57 460.57,532.32" stroke-width="0.5"/>
<path d="M477.32,515.57 C475.95,518.66 474.23,521.84 472.16,527.16 C470.1,532.49 470.27,533.31 469.59,535.54" stroke-width="0.5"/>
<path d="M482.47,512.99 C484.54,514.02 487.32,513.08 490.21,516.86 C493.09,520.64 491.79,519.95 493.3,527.16 C494.81,534.38 495.19,539.45 495.88,543.92" stroke-width="0.7"/>
<path d="M490.21,509.12 C490.89,510.5 490.72,511.53 492.78,514.28 C494.85,517.03 496.56,518.06 497.94,519.43" stroke-width="0.6"/>
<path d="M406.44,471.75 C406.1,473.81 405.09,475.29 405.15,479.48 C405.22,483.68 404.98,484.04 406.7,487.47 C408.42,490.91 410.29,491.07 411.6,492.37" stroke-width="0.7"/>
<path d="M411.6,469.18 C411.19,471.92 409.98,474.26 410.05,479.48 C410.12,484.71 411.37,486.29 411.86,488.76" stroke-width="0.5"/>
<path d="M537.36,451.26 C537.63,458.14 537.49,460.89 538.18,471.89 C538.87,482.9 539.01,480.15 539.42,484.27" stroke-width="0.5"/>
<path d="M543.55,452.29 C543.96,458.83 543.68,460.55 544.78,471.89 C545.88,483.24 546.16,481.52 546.85,486.34" stroke-width="0.5"/>
<path d="M570.37,471.89 C570.09,478.77 569.4,480.83 569.54,492.53 C569.68,504.22 570.37,502.15 570.78,506.97" stroke-width="0.5"/>
<path d="M518.79,513.16 C521.54,514.53 520.16,515.22 527.04,517.28 C533.92,519.35 529.1,519.35 539.42,519.35 C549.73,519.35 551.8,517.97 557.99,517.28" stroke-width="0.5"/>
<path d="M494.03,513.16 C495.41,517.28 495.41,515.91 498.16,525.54 C500.91,535.16 498.16,533.1 502.28,542.04 C506.41,550.98 507.78,548.92 510.54,552.36" stroke-width="0.6"/>
<path d="M498.16,506.97 C500.22,510.41 501.25,511.09 504.35,517.28 C507.44,523.47 506.41,522.78 507.44,525.54" stroke-width="0.5"/>
<path d="M456.89,436.82 C456.62,438.88 456.07,438.2 456.07,443.01 C456.07,447.82 456.62,448.51 456.89,451.26" stroke-width="0.6"/>
<path d="M491.97,454.36 C494.03,453.33 491.97,452.57 498.16,451.26 C504.35,449.96 502.97,450.09 510.54,450.44 C518.1,450.78 517.41,451.68 520.85,452.29" stroke-width="0.6"/></g>
<g><g transform="translate(511.3,301.5) scale(0.98)"><g stroke="#a4a4a4" stroke-width="0.8" fill="none"><path d="M-56,13.6 A56,17.2 0 0 0 56,13.6"/>
<path d="M-54.8,13 A54.8,16.4 0 0 0 54.8,13"/>
<path d="M-53,12 A53,15.4 0 0 0 53,12"/>
<path d="M-56,13.6 C-56,11.2 -54.5,9.8 -52.3,8.6 M56,13.6 C56,11.2 54.5,9.8 52.3,8.6"/>
<path d="M-52.3,10 C-52.6,3 -50.5,-1.2 -45,-3.6 C-40,-5.4 -36,-6.3 -31.5,-6.6"/>
<path d="M52.3,10 C52.6,3.6 50.5,-0.2 45.5,-2.6 C43,-3.6 41.8,-3.8 41,-4"/>
<path d="M-4.4,-8.6 C-1,-9.6 3,-9.8 6,-9.4"/>
<path d="M-49,9 C-49.5,3.5 -47.5,0.4 -43,-1.6 C-38,-3.4 -30,-4.6 -22,-5"/>
<path d="M49.5,9.5 C49.8,4.5 47.6,1.6 43,-0.4 C39,-1.8 34,-2.8 29,-3.3"/>
<ellipse cx="0" cy="0" rx="16.5" ry="4.9"/>
<ellipse cx="0" cy="0.2" rx="13.2" ry="3.9"/>
<ellipse cx="0" cy="0.3" rx="10.8" ry="3" stroke-width="1.1"/>
<ellipse cx="0" cy="0.8" rx="8.6" ry="2.1"/>
<path d="M-7.5,1.6 A8.4,2 0 0 0 7.5,1.6" stroke-width="1.2"/>
<path d="M-17,-1.6 C-24,-2.6 -28,-3.6 -30,-4.6 M17,-1.2 C23,-2.4 27,-3.2 30,-4"/>
<path d="M-16.4,1.4 C-22,2.4 -26,2.4 -29.5,1.2 M16.4,1.6 C21,2.4 25,3 28,2.6"/>
<path d="M-46.5,-2.2 L-22.6,-1.6 L-21.6,0.4 L-44,1.2 Z" fill="#a4a4a4" fill-opacity="0.55"/>
<path d="M-45.5,-1.2 L-24,-0.7 M-45,0 L-24,0.1" stroke-width="1.0"/>
<path d="M-47.6,-0.4 C-49.6,0.6 -50.6,2.6 -51,5"/>
<path d="M22.6,-0.4 C31,-0.8 40,-1 47,0.4 M22,1.6 C30,1.4 38,1.6 45,3" stroke-width="0.9"/>
<path d="M-12.4,4 C-19,5.4 -28,8 -36.4,11.4 M-8.8,5.6 C-15,7.2 -25,11 -32.4,15.4" stroke-width="1.0"/>
<path d="M-36.4,11.4 C-38,12.4 -39.4,14 -40.2,15.6"/>
<path d="M-45.9,2.6 C-42,1.6 -37,1.4 -33.4,1.8 C-29,2.2 -25.6,3 -23.7,4 C-28,6 -33,8.4 -36.6,10.6"/>
<path d="M26.3,5 C30,3.6 34.6,3.2 38.2,3.4 C42,3.6 45.6,4.8 47.9,6.9 M26.3,5 C29,7.6 31.6,10.6 33.1,14"/>
<path d="M8.7,5.2 L15.4,3.8 L32.4,10.8 L25.6,12.6 Z" fill="#a4a4a4" fill-opacity="0.6"/>
<path d="M10.4,5.4 L27,12 M12.6,4.8 L29.2,11.4 M14.6,4.2 L31,10.8" stroke-width="0.9"/>
<path d="M32.4,10.8 C34,12.6 35,15 35.4,17.4"/>
<path d="M-21,20.6 C-20.8,14 -18,9.6 -12.6,8.6 C-6,7.6 2,7.8 6.4,9 C11,10.4 13.2,15 13.4,21"/>
<path d="M-19,20.9 C-18.8,15 -16.4,11.2 -12,10.4 C-6,9.6 1,9.8 5.4,10.8 C9.4,12 11.4,16 11.6,21.2"/>
<path d="M-17.8,21.6 C-17.8,16.6 -16.6,14.4 -13.6,14 C-10.6,14 -9.5,16.6 -9.4,21.8"/>
<path d="M3.2,22 C3.2,16.8 4.4,14.6 7.4,14.4 C10.4,14.6 11.4,17 11.5,21.6"/>
<path d="M-15.8,21.8 C-15.8,17.6 -15,16 -13.4,15.8 M5.2,22 C5.2,18 6,16.4 7.6,16.2"/>
<path d="M-9.5,19 C-6,18 0,18 3.2,19.2"/>
<path d="M-10.8,23.6 L-10.4,26.6 L1.6,27 L2,24"/>
<path d="M-9.4,25.2 L0.8,25.6" stroke-width="1.1"/>
<path d="M-51,11.6 C-51,5.6 -49,1.8 -45,1.2 C-42,1 -40.4,2.4 -40,5 L-39.6,15.6"/>
<path d="M-47.4,3 L-47,14 M-44,2.2 L-43.6,14.6"/>
<path d="M-48,13.6 L-47.6,16.4 L-40,17.6 L-39.8,14.8"/>
<path d="M-46.6,15.2 L-40.8,16.2" stroke-width="1.1"/>
<path d="M35,18 C35.2,11 36.6,6.6 40.4,4.6 C44,3.2 47.4,4.4 49.4,7 C50.6,9 51,10.4 51,11.8"/>
<path d="M38.4,16.8 C38.6,11 39.6,7.8 42,6.4 M45.6,5.2 L45.8,15.4 M48.4,6.6 L48.5,14.2"/>
<path d="M35,14.8 L35.2,17.6 L45,17.2 L45.2,14.6"/>
<path d="M36.4,16 L44,15.8" stroke-width="1.1"/>
<ellipse cx="22.9" cy="-30.6" rx="14" ry="3.9"/>
<ellipse cx="22.9" cy="-30.4" rx="12" ry="3"/>
<path d="M8.9,-30.6 L8.9,-12.8 M36.9,-30.6 L36.9,-12.8"/>
<path d="M8.9,-26.6 A14,3.9 0 0 0 36.9,-26.6" stroke-width="0.6"/>
<path d="M8.9,-13.4 A14,3.9 0 0 0 36.9,-13.4"/>
<path d="M7.6,-13 L7.6,-9.6 A15.3,4.2 0 0 0 38.2,-9.6 L38.2,-13"/>
<path d="M7.6,-13 A15.3,4.2 0 0 0 38.2,-13" stroke-width="0.6"/>
<path d="M7.6,-9.6 C6.6,-8.4 5.4,-7.6 4.4,-7.2 M38.2,-9.6 C39.4,-7.6 40.6,-5.6 41,-4"/>
<path d="M12,-6.2 C17,-4.6 29,-4.4 36,-6"/>
<path d="M-27.3,-7.7 L-27.3,-20 C-27.3,-24 -25.6,-26 -22,-26.8 L-11.6,-28 C-9,-27.8 -7.6,-25.6 -7,-22.9 L-4.4,-8.9"/>
<path d="M-22.3,-8.2 L-22.9,-17 C-23,-20 -21.4,-21.4 -18.6,-21.8 L-8.3,-22.5"/>
<path d="M-25,-8 L-25.2,-19 C-25.2,-22.6 -23.6,-24 -20.6,-24.6 L-10,-25.8" stroke-width="0.6"/>
<path d="M-22.3,-8.2 C-17,-6.2 -10,-6 -4.4,-8.9"/>
<path d="M-27.3,-9 C-30,-9.6 -32.6,-8.6 -33.6,-6.2"/></g></g>
<path d="M456.6,316 L456.6,323.6 A54.8,15.2 0 0 0 566.2,323.6 L566.2,316" stroke="#a4a4a4"/>
<path d="M456.6,319.6 A54.8,15.4 0 0 0 566.2,319.6" stroke="#a4a4a4" stroke-width="0.6"/></g>
<path d="M511.4,247.4 L511.4,301.6" stroke="#6e6e6e" stroke-width="0.6" stroke-dasharray="13 2.4 1.8 2.4" stroke-linecap="butt"/>
<path d="M549.7,262.6 L549.7,319" stroke="#6e6e6e" stroke-width="0.6" stroke-dasharray="13 2.4 1.8 2.4" stroke-linecap="butt"/>
<g><path d="M503.3,174.3 L503.3,158.5 C503.3,156.4 504,155.2 505.6,154.2 L528.7,139.7 C529.8,139.2 530.8,139.2 531.6,139.4 M519.9,174.3 L519.9,162.4 C519.9,161.2 520.4,160.5 521.4,159.8 L536.4,148.9 C537.2,148.2 537.6,147.6 537.8,147"/>
<path d="M503.3,174.3 A8.3,2.4 0 0 0 519.9,174.3"/>
<path d="M504.5,175.2 L504.5,180.4 A7.2,2.4 0 0 0 518.9,180.4 L518.9,175.2"/>
<path d="M503.6,158.4 C508,161 514,162.2 519.8,162" stroke-width="0.5"/>
<ellipse cx="535.6" cy="142.8" rx="2.3" ry="6.3" transform="rotate(-41 535.6 142.8)" fill="#fff"/>
<ellipse cx="536.9" cy="141.9" rx="1.9" ry="5.6" transform="rotate(-41 536.9 141.9)" stroke-width="0.6"/></g>
<g><path d="M508.9,197.5 L508.9,191.6 C508.9,190.4 513.7,190.4 513.7,191.6 L513.7,197.5"/>
<path d="M508.9,192.4 C510,193.2 512.6,193.2 513.7,192.4" stroke-width="0.5"/>
<path d="M507.3,197.5 L507.3,216.4 L515.7,216.4 L515.7,197.5 Z" fill="#b8b8b8" fill-opacity="0.5"/>
<path d="M507.3,198.2 C509.5,199 513.5,199 515.7,198.2" stroke-width="0.6"/>
<path d="M507.3,199.7 C509.5,200.5 513.5,200.5 515.7,199.7" stroke-width="0.6"/>
<path d="M507.3,201.2 C509.5,202 513.5,202 515.7,201.2" stroke-width="0.6"/>
<path d="M507.3,202.7 C509.5,203.5 513.5,203.5 515.7,202.7" stroke-width="0.6"/>
<path d="M507.3,204.2 C509.5,205 513.5,205 515.7,204.2" stroke-width="0.6"/>
<path d="M507.3,205.7 C509.5,206.5 513.5,206.5 515.7,205.7" stroke-width="0.6"/>
<path d="M507.3,207.2 C509.5,208 513.5,208 515.7,207.2" stroke-width="0.6"/>
<path d="M507.3,208.7 C509.5,209.5 513.5,209.5 515.7,208.7" stroke-width="0.6"/>
<path d="M507.3,210.2 C509.5,211 513.5,211 515.7,210.2" stroke-width="0.6"/>
<path d="M507.3,211.7 C509.5,212.5 513.5,212.5 515.7,211.7" stroke-width="0.6"/>
<path d="M507.3,213.2 C509.5,214 513.5,214 515.7,213.2" stroke-width="0.6"/>
<path d="M507.3,214.7 C509.5,215.5 513.5,215.5 515.7,214.7" stroke-width="0.6"/>
<path d="M502.8,217.4 L504,216.4 L518,216.4 L519.2,217.4 L519.2,224.6 L518,225.8 L504,225.8 L502.8,224.6 Z" fill="#fff"/>
<path d="M507.2,216.4 L507.2,225.8 M515,216.4 L515,225.8" stroke-width="0.6"/>
<path d="M502.8,218.4 L519.2,218.4" stroke-width="0.5"/>
<path d="M504.6,225.8 L506.6,228.6 L516.4,228.6 L517.6,225.8"/>
<path d="M507.9,228.6 L507.9,244.4 C507.9,246.2 515.5,246.2 515.5,244.4 L515.5,228.6 Z" fill="#b0b0b0" fill-opacity="0.6"/>
<path d="M507.9,229.6 L515.5,230" stroke-width="0.45"/>
<path d="M507.9,230.9 L515.5,231.3" stroke-width="0.45"/>
<path d="M507.9,232.2 L515.5,232.6" stroke-width="0.45"/>
<path d="M507.9,233.5 L515.5,233.9" stroke-width="0.45"/>
<path d="M507.9,234.8 L515.5,235.2" stroke-width="0.45"/>
<path d="M507.9,236.1 L515.5,236.5" stroke-width="0.45"/>
<path d="M507.9,237.4 L515.5,237.8" stroke-width="0.45"/>
<path d="M507.9,238.7 L515.5,239.1" stroke-width="0.45"/>
<path d="M507.9,240 L515.5,240.4" stroke-width="0.45"/>
<path d="M507.9,241.3 L515.5,241.7" stroke-width="0.45"/>
<path d="M507.9,242.6 L515.5,243" stroke-width="0.45"/>
<path d="M507.9,243.9 L515.5,244.3" stroke-width="0.45"/></g>
<g transform="rotate(-16 476 238)"><ellipse cx="476" cy="212.5" rx="8.3" ry="2.4"/>
<path d="M467.7,212.5 L467.7,232 M484.3,212.5 L484.3,232"/>
<path d="M472.2,214.6 L472.2,232 M479.4,214.8 L479.4,232" stroke-width="0.55"/>
<path d="M464.8,233.4 L467.7,231.6 L484.3,231.6 L487.2,233.4 L487.2,240.6 L484,243 L468,243 L464.8,240.6 Z" fill="#fff"/>
<path d="M470.4,232 L470.4,243 M481.6,232 L481.6,243" stroke-width="0.6"/>
<path d="M464.8,233.4 C470,235.4 482,235.4 487.2,233.4" stroke-width="0.5"/>
<path d="M471.2,243 L471.2,251.6 L480.8,251.6 L480.8,243 Z" fill="#8c8c8c" fill-opacity="0.55"/>
<path d="M471.2,244 L480.8,244.5" stroke-width="0.6"/>
<path d="M471.2,245.4 L480.8,245.9" stroke-width="0.6"/>
<path d="M471.2,246.8 L480.8,247.3" stroke-width="0.6"/>
<path d="M471.2,248.2 L480.8,248.7" stroke-width="0.6"/>
<path d="M471.2,249.6 L480.8,250.1" stroke-width="0.6"/>
<path d="M471.2,251 L480.8,251.5" stroke-width="0.6"/>
<path d="M473,251.6 L473,264.4 A3,1 0 0 0 479,264.4 L479,251.6"/>
<ellipse cx="476" cy="264.4" rx="3" ry="1" stroke-width="0.55"/></g>
<g><ellipse cx="549.7" cy="231.2" rx="4.8" ry="1.5"/>
<ellipse cx="549.7" cy="231.2" rx="2.4" ry="0.8" stroke-width="0.9"/>
<path d="M544.9,231.2 L544.9,237.4 A4.8,1.5 0 0 0 554.5,237.4 L554.5,231.2"/>
<path d="M547.1,238.8 L547.1,260.4 C547.1,261.8 552.3,261.8 552.3,260.4 L552.3,238.8"/>
<path d="M547.1,241.4 L552.3,241.8" stroke-width="0.5"/>
<path d="M547.1,242.8 L552.3,243.2" stroke-width="0.5"/>
<path d="M547.1,244.2 L552.3,244.6" stroke-width="0.5"/>
<path d="M547.1,245.6 L552.3,246" stroke-width="0.5"/>
<path d="M547.1,247 L552.3,247.4" stroke-width="0.5"/>
<path d="M547.1,248.4 L552.3,248.8" stroke-width="0.5"/>
<path d="M547.1,249.8 L552.3,250.2" stroke-width="0.5"/>
<path d="M547.1,251.2 L552.3,251.6" stroke-width="0.5"/>
<path d="M547.1,252.6 L552.3,253" stroke-width="0.5"/>
<path d="M547.1,254 L552.3,254.4" stroke-width="0.5"/>
<path d="M547.1,255.4 L552.3,255.8" stroke-width="0.5"/>
<path d="M547.1,256.8 L552.3,257.2" stroke-width="0.5"/>
<path d="M547.1,258.2 L552.3,258.6" stroke-width="0.5"/>
<path d="M547.1,259.6 L552.3,260" stroke-width="0.5"/></g>
<ellipse cx="512" cy="360.5" rx="36.6" ry="10.5" stroke="#505050" stroke-width="2.0"/><ellipse cx="512" cy="360.5" rx="36.6" ry="10.5" stroke="#fff" stroke-width="0.75"/>
<path d="M459.96,394 C459.96,391.71 459.25,391.71 461.6,389.91 C463.95,388.11 462.64,389.09 467,388.6 C471.36,388.11 470.71,388.82 474.69,388.44 C478.67,388.06 477.64,388.87 478.95,387.46 C480.26,386.04 477.31,385.93 478.62,384.18 C479.93,382.44 478.84,383.31 482.87,382.22 C486.91,381.13 484.29,381.51 490.73,380.91 C497.16,380.31 496.29,380.31 502.18,380.42 C508.07,380.53 505.13,380.2 508.4,381.24 C511.67,382.27 509.38,382.55 512,383.53 C514.62,384.51 513.42,384.18 516.26,384.18 C519.09,384.18 517.67,384.4 520.51,383.53 C523.35,382.66 521.06,382.44 524.77,381.56 C528.47,380.69 525.8,380.58 531.64,380.91 C537.47,381.24 536.38,381.13 542.27,382.55 C548.17,383.96 547.18,383.2 549.31,385.16 C551.44,387.13 547.46,386.64 548.66,388.44 C549.86,390.24 548.66,389.58 552.91,390.56 C557.17,391.55 557.6,390.24 561.42,391.38 C565.24,392.53 564.04,391.93 564.37,394 C564.69,396.07 565.35,395.91 562.4,397.6 C559.46,399.29 560.55,397.98 555.53,399.07 C550.51,400.16 550.4,399.18 547.35,400.87 C544.29,402.56 548.22,402.73 546.37,404.15 C544.51,405.56 546.69,404.26 541.78,405.13 C536.87,406 538.02,405.95 531.64,406.76 C525.26,407.58 527.77,407.8 522.64,407.58 C517.51,407.36 520.02,407.26 516.26,406.11 C512.49,404.96 515.17,404.86 511.35,404.15 C507.53,403.44 508.62,403.38 504.8,403.98 C500.98,404.58 504.86,405.02 499.89,405.95 C494.93,406.87 497.55,407.26 489.91,406.76 C482.27,406.27 482.71,406.11 476.98,404.47 C471.26,402.84 473.38,403.71 472.73,401.86 C472.07,400 476.66,400.22 475.02,398.91 C473.38,397.6 472.29,398.64 467.82,397.93 C463.35,397.22 464.22,398.09 461.6,396.78 C458.98,395.47 459.96,396.29 459.96,394 Z" stroke="#5c5c5c" stroke-width="2.1" fill="none"/><path d="M459.96,394 C459.96,391.71 459.25,391.71 461.6,389.91 C463.95,388.11 462.64,389.09 467,388.6 C471.36,388.11 470.71,388.82 474.69,388.44 C478.67,388.06 477.64,388.87 478.95,387.46 C480.26,386.04 477.31,385.93 478.62,384.18 C479.93,382.44 478.84,383.31 482.87,382.22 C486.91,381.13 484.29,381.51 490.73,380.91 C497.16,380.31 496.29,380.31 502.18,380.42 C508.07,380.53 505.13,380.2 508.4,381.24 C511.67,382.27 509.38,382.55 512,383.53 C514.62,384.51 513.42,384.18 516.26,384.18 C519.09,384.18 517.67,384.4 520.51,383.53 C523.35,382.66 521.06,382.44 524.77,381.56 C528.47,380.69 525.8,380.58 531.64,380.91 C537.47,381.24 536.38,381.13 542.27,382.55 C548.17,383.96 547.18,383.2 549.31,385.16 C551.44,387.13 547.46,386.64 548.66,388.44 C549.86,390.24 548.66,389.58 552.91,390.56 C557.17,391.55 557.6,390.24 561.42,391.38 C565.24,392.53 564.04,391.93 564.37,394 C564.69,396.07 565.35,395.91 562.4,397.6 C559.46,399.29 560.55,397.98 555.53,399.07 C550.51,400.16 550.4,399.18 547.35,400.87 C544.29,402.56 548.22,402.73 546.37,404.15 C544.51,405.56 546.69,404.26 541.78,405.13 C536.87,406 538.02,405.95 531.64,406.76 C525.26,407.58 527.77,407.8 522.64,407.58 C517.51,407.36 520.02,407.26 516.26,406.11 C512.49,404.96 515.17,404.86 511.35,404.15 C507.53,403.44 508.62,403.38 504.8,403.98 C500.98,404.58 504.86,405.02 499.89,405.95 C494.93,406.87 497.55,407.26 489.91,406.76 C482.27,406.27 482.71,406.11 476.98,404.47 C471.26,402.84 473.38,403.71 472.73,401.86 C472.07,400 476.66,400.22 475.02,398.91 C473.38,397.6 472.29,398.64 467.82,397.93 C463.35,397.22 464.22,398.09 461.6,396.78 C458.98,395.47 459.96,396.29 459.96,394 Z" stroke="#fff" stroke-width="0.95" fill="none"/>
<path d="M484,154.4 C485.76,154.56 487.4,154.04 490.6,155 C493.8,155.96 492.64,155.6 496,158 C499.36,160.4 501.28,162.4 503.2,164" stroke="#8a8a8a" stroke-width="0.6"/>

<path d="M538.1,202.4 C536.58,202.51 535.36,201.15 532.4,202.8 C529.44,204.45 530.36,204.6 527,208.6 C523.64,212.6 521.72,215.35 519.8,217.8" stroke="#8a8a8a" stroke-width="0.6"/>

<path d="M448.2,224 C450.23,224.16 452.39,223.43 455.8,224.6 C459.21,225.77 458.12,226.11 461,228.4 C463.88,230.69 465.11,231.92 466.6,233.2" stroke="#8a8a8a" stroke-width="0.6"/>

<path d="M573.8,220.2 C571.99,220.31 570.41,219.21 567,220.6 C563.59,221.99 564.31,222.57 561,225.4 C557.69,228.23 556.31,229.65 554.6,231.2" stroke="#8a8a8a" stroke-width="0.6"/>

<path d="M548.4,358.9 C552.03,360.1 555.71,361.03 562,363.4 C568.29,365.77 567.2,366.55 572,367.8 C576.8,369.05 577.87,368.02 580,368.1" stroke="#8a8a8a" stroke-width="0.6"/>

<path d="M564.6,392 C566.04,391.04 567.23,390.21 570,388.4 C572.77,386.59 572.23,386.11 575,385.2 C577.77,384.29 578.96,385.05 580.4,385" stroke="#8a8a8a" stroke-width="0.6"/>

<path d="M529.4,449.2 L570,458.4 L650.2,472.6" stroke="#6e6e6e" stroke-width="0.6" stroke-dasharray="13 2.4 1.8 2.4" stroke-linecap="butt"/>
<path d="M670.4,475.8 L681,478.4" stroke="#6e6e6e" stroke-width="0.6" stroke-dasharray="13 2.4 1.8 2.4" stroke-linecap="butt"/>
<path d="M693.4,481 L722,486.8" stroke="#6e6e6e" stroke-width="0.6" stroke-dasharray="13 2.4 1.8 2.4" stroke-linecap="butt"/>
<path d="M731,488.6 L745,491.4" stroke="#6e6e6e" stroke-width="0.6" stroke-dasharray="13 2.4 1.8 2.4" stroke-linecap="butt"/>
<path d="M756.6,493 L772,496.2" stroke="#6e6e6e" stroke-width="0.6" stroke-dasharray="13 2.4 1.8 2.4" stroke-linecap="butt"/>
<path d="M559.6,496.8 L578.6,501.8 L589.3,487.3 L603,489.6" stroke="#6e6e6e" stroke-width="0.6" stroke-dasharray="13 2.4 1.8 2.4" stroke-linecap="butt"/>
<path d="M625,494.2 L631,495.4" stroke="#6e6e6e" stroke-width="0.6" stroke-dasharray="13 2.4 1.8 2.4" stroke-linecap="butt"/>
<path d="M643.4,497 L690.7,506.6 L684,520.2 L692,522" stroke="#6e6e6e" stroke-width="0.6" stroke-dasharray="13 2.4 1.8 2.4" stroke-linecap="butt"/>
<path d="M514,497.2 L570,508.6 L686,529.4" stroke="#6e6e6e" stroke-width="0.6" stroke-dasharray="13 2.4 1.8 2.4" stroke-linecap="butt"/>
<path d="M511,522.6 L570,532.7 L642.4,546.8" stroke="#6e6e6e" stroke-width="0.6" stroke-dasharray="13 2.4 1.8 2.4" stroke-linecap="butt"/>
<path d="M662.7,551 L670,552.6" stroke="#6e6e6e" stroke-width="0.6" stroke-dasharray="13 2.4 1.8 2.4" stroke-linecap="butt"/>
<path d="M682,555 L700,558.6" stroke="#6e6e6e" stroke-width="0.6" stroke-dasharray="13 2.4 1.8 2.4" stroke-linecap="butt"/>
<path d="M712,560.4 L760,568.4" stroke="#6e6e6e" stroke-width="0.6" stroke-dasharray="13 2.4 1.8 2.4" stroke-linecap="butt"/>
<path d="M772.6,570.6 L781,572.6" stroke="#6e6e6e" stroke-width="0.6" stroke-dasharray="13 2.4 1.8 2.4" stroke-linecap="butt"/>
<path d="M750,534 L773,537.4" stroke="#6e6e6e" stroke-width="0.6" stroke-dasharray="13 2.4 1.8 2.4" stroke-linecap="butt"/>
<path d="M785,539.4 L822,546.4 L846,550.6" stroke="#6e6e6e" stroke-width="0.6" stroke-dasharray="13 2.4 1.8 2.4" stroke-linecap="butt"/>
<path d="M856.3,553.8 L879.5,558.7" stroke="#6e6e6e" stroke-width="0.6" stroke-dasharray="13 2.4 1.8 2.4" stroke-linecap="butt"/>
<path d="M786,575 L846,584.6" stroke="#6e6e6e" stroke-width="0.6" stroke-dasharray="13 2.4 1.8 2.4" stroke-linecap="butt"/>
<path d="M857.5,586.8 L877,589.8" stroke="#6e6e6e" stroke-width="0.6" stroke-dasharray="13 2.4 1.8 2.4" stroke-linecap="butt"/>
<ellipse cx="591.2" cy="513" rx="8.8" ry="13.6" stroke="#262626" stroke-width="2.3"/>
<path d="M592.6,505 C595.4,505.6 596.2,508.6 594.6,511 M590.4,506.6 L592.6,505.4" stroke-width="0.5" stroke="#a4a4a4"/>
<g transform="rotate(9 655.4 474)"><path d="M656.4,470 L665.9,470 A1.8,4 0 0 1 665.9,478 L656.4,478" fill="#fff"/>
<path d="M666.9,471.2 L670.4,471.2 A1.3,2.8 0 0 1 670.4,476.8 L666.9,476.8" fill="#fff"/>
<ellipse cx="670.4" cy="474" rx="1.3" ry="2.8" stroke-width="0.7" fill="#fff"/>
<path d="M665.9,470 A1.8,4 0 0 0 665.9,478" stroke-width="0.6"/>
<ellipse cx="655.4" cy="474" rx="4.4" ry="7.7" fill="#fff"/>
<path d="M657,468 A3.4,6.4 0 0 1 657,480" stroke-width="0.55"/>
<path d="M657.8,470 A3,4 0 0 0 657.8,478" stroke-width="0.55"/></g>
<g transform="rotate(8 610 491.2)"><path d="M611,487.2 L623,487.2 A1.8,4 0 0 1 623,495.2 L611,495.2" fill="#fff"/>
<ellipse cx="623" cy="491.2" rx="1.7" ry="3.4" stroke-width="0.7"/>
<path d="M620.4,487.2 A1.8,4 0 0 0 620.4,495.2" stroke-width="0.55"/>
<ellipse cx="610" cy="491.2" rx="4.4" ry="7.7" fill="#fff"/>
<path d="M611.6,485.2 A3.4,6.4 0 0 1 611.6,497.2" stroke-width="0.55"/>
<path d="M612.4,487.2 A3,4 0 0 0 612.4,495.2" stroke-width="0.55"/></g>
<g transform="rotate(9 647.3 548.2)"><path d="M648.3,544.2 L657.8,544.2 A1.8,4 0 0 1 657.8,552.2 L648.3,552.2" fill="#fff"/>
<path d="M658.8,545.4 L662.3,545.4 A1.3,2.8 0 0 1 662.3,551 L658.8,551" fill="#fff"/>
<ellipse cx="662.3" cy="548.2" rx="1.3" ry="2.8" stroke-width="0.7" fill="#fff"/>
<path d="M657.8,544.2 A1.8,4 0 0 0 657.8,552.2" stroke-width="0.6"/>
<ellipse cx="647.3" cy="548.2" rx="4.4" ry="7.7" fill="#fff"/>
<path d="M648.9,542.2 A3.4,6.4 0 0 1 648.9,554.2" stroke-width="0.55"/>
<path d="M649.7,544.2 A3,4 0 0 0 649.7,552.2" stroke-width="0.55"/></g>
<g><ellipse cx="685.8" cy="479.6" rx="6.6" ry="9" fill="#fff" stroke-width="0.7"/>
<ellipse cx="686.8" cy="479.6" rx="5.5" ry="8.2" fill="#575757" stroke="#333" stroke-width="0.7"/>
<path d="M684.77,472.4 L687.33,472.7" stroke-width="0.5" stroke="#d8d8d8"/>
<path d="M683.65,473.6 L687.55,473.9" stroke-width="0.5" stroke="#d8d8d8"/>
<path d="M682.94,474.8 L687.69,475.1" stroke-width="0.5" stroke="#d8d8d8"/>
<path d="M682.46,476 L687.79,476.3" stroke-width="0.5" stroke="#d8d8d8"/>
<path d="M682.14,477.2 L687.85,477.5" stroke-width="0.5" stroke="#d8d8d8"/>
<path d="M681.96,478.4 L687.89,478.7" stroke-width="0.5" stroke="#d8d8d8"/>
<path d="M681.9,479.6 L687.9,479.9" stroke-width="0.5" stroke="#d8d8d8"/>
<path d="M681.96,480.8 L687.89,481.1" stroke-width="0.5" stroke="#d8d8d8"/>
<path d="M682.14,482 L687.85,482.3" stroke-width="0.5" stroke="#d8d8d8"/>
<path d="M682.46,483.2 L687.79,483.5" stroke-width="0.5" stroke="#d8d8d8"/>
<path d="M682.94,484.4 L687.69,484.7" stroke-width="0.5" stroke="#d8d8d8"/>
<path d="M683.65,485.6 L687.55,485.9" stroke-width="0.5" stroke="#d8d8d8"/>
<path d="M684.77,486.8 L687.33,487.1" stroke-width="0.5" stroke="#d8d8d8"/>
<ellipse cx="690.2" cy="479.8" rx="2.4" ry="3.7" fill="#fff" stroke="#3c3c3c" stroke-width="0.7"/>
<path d="M691.2,476.4 A2.4,3.7 0 0 0 691.2,483.2" stroke="#fff" stroke-width="1.4"/></g>
<g><ellipse cx="635.8" cy="496" rx="6.6" ry="9" fill="#fff" stroke-width="0.7"/>
<ellipse cx="636.8" cy="496" rx="5.5" ry="8.2" fill="#575757" stroke="#333" stroke-width="0.7"/>
<path d="M634.77,488.8 L637.33,489.1" stroke-width="0.5" stroke="#d8d8d8"/>
<path d="M633.65,490 L637.55,490.3" stroke-width="0.5" stroke="#d8d8d8"/>
<path d="M632.94,491.2 L637.69,491.5" stroke-width="0.5" stroke="#d8d8d8"/>
<path d="M632.46,492.4 L637.79,492.7" stroke-width="0.5" stroke="#d8d8d8"/>
<path d="M632.14,493.6 L637.85,493.9" stroke-width="0.5" stroke="#d8d8d8"/>
<path d="M631.96,494.8 L637.89,495.1" stroke-width="0.5" stroke="#d8d8d8"/>
<path d="M631.9,496 L637.9,496.3" stroke-width="0.5" stroke="#d8d8d8"/>
<path d="M631.96,497.2 L637.89,497.5" stroke-width="0.5" stroke="#d8d8d8"/>
<path d="M632.14,498.4 L637.85,498.7" stroke-width="0.5" stroke="#d8d8d8"/>
<path d="M632.46,499.6 L637.79,499.9" stroke-width="0.5" stroke="#d8d8d8"/>
<path d="M632.94,500.8 L637.69,501.1" stroke-width="0.5" stroke="#d8d8d8"/>
<path d="M633.65,502 L637.55,502.3" stroke-width="0.5" stroke="#d8d8d8"/>
<path d="M634.77,503.2 L637.33,503.5" stroke-width="0.5" stroke="#d8d8d8"/>
<ellipse cx="640.2" cy="496.2" rx="2.4" ry="3.7" fill="#fff" stroke="#3c3c3c" stroke-width="0.7"/>
<path d="M641.2,492.8 A2.4,3.7 0 0 0 641.2,499.6" stroke="#fff" stroke-width="1.4"/></g>
<g><ellipse cx="674.2" cy="553.6" rx="6.6" ry="9" fill="#fff" stroke-width="0.7"/>
<ellipse cx="675.2" cy="553.6" rx="5.5" ry="8.2" fill="#575757" stroke="#333" stroke-width="0.7"/>
<path d="M673.17,546.4 L675.73,546.7" stroke-width="0.5" stroke="#d8d8d8"/>
<path d="M672.05,547.6 L675.95,547.9" stroke-width="0.5" stroke="#d8d8d8"/>
<path d="M671.34,548.8 L676.09,549.1" stroke-width="0.5" stroke="#d8d8d8"/>
<path d="M670.86,550 L676.19,550.3" stroke-width="0.5" stroke="#d8d8d8"/>
<path d="M670.54,551.2 L676.25,551.5" stroke-width="0.5" stroke="#d8d8d8"/>
<path d="M670.36,552.4 L676.29,552.7" stroke-width="0.5" stroke="#d8d8d8"/>
<path d="M670.3,553.6 L676.3,553.9" stroke-width="0.5" stroke="#d8d8d8"/>
<path d="M670.36,554.8 L676.29,555.1" stroke-width="0.5" stroke="#d8d8d8"/>
<path d="M670.54,556 L676.25,556.3" stroke-width="0.5" stroke="#d8d8d8"/>
<path d="M670.86,557.2 L676.19,557.5" stroke-width="0.5" stroke="#d8d8d8"/>
<path d="M671.34,558.4 L676.09,558.7" stroke-width="0.5" stroke="#d8d8d8"/>
<path d="M672.05,559.6 L675.95,559.9" stroke-width="0.5" stroke="#d8d8d8"/>
<path d="M673.17,560.8 L675.73,561.1" stroke-width="0.5" stroke="#d8d8d8"/>
<ellipse cx="678.6" cy="553.8" rx="2.4" ry="3.7" fill="#fff" stroke="#3c3c3c" stroke-width="0.7"/>
<path d="M679.6,550.4 A2.4,3.7 0 0 0 679.6,557.2" stroke="#fff" stroke-width="1.4"/></g>
<g><path d="M692.45,523.99 C691.07,523.91 689.88,523.19 687.85,523.72 C685.82,524.25 686.33,524.05 685.68,525.75 C685.03,527.46 685.03,527.66 685.68,529.41 C686.33,531.15 685.82,530.92 687.85,531.57 C689.88,532.22 691.07,531.57 692.45,531.57" fill="#fff"/>
<path d="M696.24,519.66 C695.35,520.27 694.56,519.25 693.26,521.69 C691.96,524.13 691.99,523.52 691.91,527.78 C691.83,532.04 691.77,531.76 692.99,535.9 C694.21,540.04 695.08,539.88 695.97,541.59" stroke-width="0.8"/>
<path d="M697.32,521.01 C696.51,521.83 695.67,521.49 694.62,523.72 C693.56,525.95 693.72,525.01 693.8,528.46 C693.89,531.91 693.83,531.77 694.89,535.22 C695.94,538.68 696.59,538.54 697.32,539.96" stroke-width="0.55"/>
<path d="M698.95,522.37 C698.22,523.18 697.4,523.04 696.51,525.07 C695.62,527.1 695.81,526.29 695.97,529.13 C696.13,531.98 696.16,531.91 697.05,534.55 C697.95,537.19 698.38,536.92 698.95,537.93" stroke-width="0.55"/>
<path d="M718.06,483.35 C717.37,484.42 717.57,485.42 715.13,487.96 C712.68,490.5 710.52,491.01 707.59,494.24 C704.66,497.46 704.61,498.55 702.56,501.78 C700.51,505 699.87,504.93 698.79,508.06 C697.72,511.18 697.9,510.78 697.96,515.18 C698.02,519.57 698.4,521.43 699.05,526.9 C699.69,532.37 699.9,533.94 700.72,538.63 C701.54,543.32 701.35,543.09 702.56,547 C703.77,550.91 705.13,553.42 705.91,555.38" stroke="#3a3a3a" stroke-width="1.0"/>
<path d="M717.64,490.72 C715.88,491.97 713.03,493.27 710.1,496.08 C707.17,498.89 707.13,499.85 705.08,502.78 C703.02,505.71 702.38,505.56 701.31,508.64 C700.23,511.73 700.41,511.56 700.47,516.01 C700.53,520.47 700.91,522.07 701.56,527.74 C702.2,533.41 702.45,535.42 703.23,540.3 C704.01,545.19 704.52,546.72 704.91,548.68" stroke-width="0.7"/>
<path d="M719.15,492.56 C717.62,493.77 715.41,494.98 712.61,497.76 C709.82,500.53 709.22,501.72 707.17,504.46 C705.12,507.19 704.8,506.59 703.82,509.48 C702.84,512.37 702.96,512.69 702.98,516.85 C703,521.01 703.3,521.85 703.9,527.32 C704.51,532.79 704.84,535.32 705.58,540.3 C706.32,545.28 706.73,546.72 707.09,548.68" stroke="#3a3a3a" stroke-width="0.9"/>
<path d="M718.06,483.35 C718.35,482.67 718.24,481.47 719.31,480.42 C720.39,479.36 720.71,479.28 722.66,478.83 C724.62,478.38 725.44,478.12 727.69,478.49 C729.94,478.86 730.63,479.09 732.29,480.42 C733.96,481.75 734.12,482.14 734.81,484.19 C735.49,486.24 735.52,487.06 735.23,489.21 C734.93,491.36 734.72,491.93 733.55,493.4 C732.38,494.87 731.96,494.95 730.2,495.49 C728.44,496.04 727.77,496.04 726.01,495.75 C724.25,495.45 723.99,495.18 722.66,494.24 C721.33,493.3 720.87,492.31 720.32,491.73" fill="#fff" stroke="#3a3a3a" stroke-width="0.9"/>
<ellipse cx="726.85" cy="488.21" rx="4.69" ry="6.37" transform="rotate(8 726.85 488.21)" fill="#fff" stroke="#3a3a3a" stroke-width="0.9"/>
<ellipse cx="727.35" cy="488.38" rx="2.6" ry="3.85" transform="rotate(8 727.35 488.38)" stroke="#3a3a3a" stroke-width="0.9"/>
<path d="M719.48,485.03 C719.79,484.28 719.88,482.94 720.82,481.84 C721.76,480.75 722.09,480.76 723.5,480.34 C724.91,479.91 726.07,480.08 726.85,480" stroke-width="0.55"/>
<path d="M720.32,491.73 C719.99,491.92 719.48,492.56 718.89,492.56 C718.31,492.56 717.94,492.35 717.81,491.73 C717.67,491.1 718.19,490.31 718.31,489.88" stroke-width="1.4" stroke="#333"/>
<path d="M720.32,493.4 C719.69,493.99 719.83,494.84 717.64,495.91 C715.45,496.99 713.19,496.01 710.94,498.01 C708.69,500 708.89,500.45 708.01,504.46 C707.13,508.46 706.97,509.94 707.17,515.18 C707.36,520.41 707.57,522.6 708.84,526.9 C710.11,531.2 710.37,531.69 712.61,533.6 C714.86,535.52 715.94,535.34 718.48,535.11 C721.02,534.87 722.33,533.18 723.5,532.6" fill="#fff" stroke="#3a3a3a" stroke-width="0.9"/>
<path d="M717.64,495.91 C719.01,496.03 720.76,495.79 723.5,496.42 C726.24,497.04 727.29,498.01 729.36,498.59 C731.43,499.18 731.68,498.85 732.38,498.93" stroke="#3a3a3a" stroke-width="0.9"/>
<path d="M710.52,505.13 C711.11,501.84 710.95,502.36 712.61,501.11 C714.27,499.85 714.32,499.57 717.64,499.77 C720.96,499.96 723.72,500.69 726.85,501.94 C729.98,503.19 730.22,503.21 731.04,505.13 C731.86,507.04 731.31,506.63 730.37,510.15 C729.43,513.67 728.62,516.1 727.02,520.2 C725.42,524.3 725.3,525.1 723.5,527.74 C721.7,530.38 721.42,530.92 719.31,531.51 C717.2,532.09 716.29,531.72 714.46,530.25 C712.62,528.79 712.46,528.74 711.44,525.23 C710.42,521.71 710.32,519.87 710.1,515.18 C709.89,510.49 709.93,508.41 710.52,505.13 Z" stroke-width="0.7"/>
<path d="M712.45,505.96 C712.88,505.28 712.98,503.97 714.29,503.03 C715.6,502.09 715.42,501.77 718.06,501.94 C720.7,502.12 723.15,502.81 725.59,503.79 C728.04,504.76 727.84,505.58 728.53,506.13" stroke-width="0.5"/>
<path d="M732.38,498.93 L723.08,532.6" stroke="#3a3a3a" stroke-width="0.9"/>
<path d="M734.97,499.93 L725.68,533.77" stroke-width="0.7"/>
<path d="M737.91,501.11 L728.69,534.77" stroke="#3a3a3a" stroke-width="0.9"/>
<path d="M730.54,511.66 L726.18,526.9" stroke="#8a8a8a" stroke-width="1.8"/>
<path d="M730.2,495.58 C730.98,495.38 731.21,494.19 733.55,494.74 C735.9,495.29 736.73,495.7 740.25,497.92 C743.77,500.15 744.48,500.93 748.63,504.29 C752.77,507.65 755.08,509.4 758.01,512.33 C760.94,515.26 760.19,514.23 761.19,516.85 C762.19,519.47 762.28,520.23 762.28,523.55 C762.28,526.87 762.38,527.77 761.19,531.09 C760,534.41 759.22,535.58 757.17,537.79 C755.12,540 755.56,540.71 752.4,540.55 C749.23,540.4 747.51,539.29 743.6,537.12 C739.69,534.95 737.95,533.29 735.64,531.26 C733.34,529.22 734.17,529.07 733.72,528.41" stroke="#3a3a3a" stroke-width="0.9"/>
<path d="M737.91,501.11 C740.41,502.86 743.35,504.38 748.63,508.64 C753.9,512.9 757.74,516.86 760.52,519.36" stroke-width="0.6"/>
<path d="M736.57,506.8 C738.99,508.56 741.09,509.73 746.95,514.34 C752.81,518.95 758.25,523.71 761.69,526.57" stroke-width="0.55"/>
<path d="M733.55,518.53 C735.9,520.19 737.7,521.74 743.6,525.64 C749.5,529.55 755.29,533.03 758.84,535.28" stroke-width="0.55"/>
<path d="M758.01,512.33 C757.58,513.77 756.95,515.13 756.16,518.53 C755.38,521.93 755.32,523.38 754.66,526.9 C753.99,530.42 753.84,530.42 753.32,533.6 C752.79,536.79 752.61,538.93 752.4,540.55" stroke-width="0.6"/>
<ellipse cx="757" cy="537.96" rx="3.35" ry="3.85" stroke-width="0.7"/>
<path d="M731.04,496.42 C732.02,495.87 733.08,494.54 735.23,494.07 C737.38,493.6 739.08,494.33 740.25,494.41" stroke-width="0.6"/>
<path d="M721.16,499.43 C722.68,500.56 724.41,502.08 727.69,504.29 C730.97,506.5 732.26,507.14 735.23,508.89 C738.2,510.65 739.21,511.14 740.42,511.83" stroke-width="1.7" stroke="#2c2c2c"/>
<path d="M722.83,499.1 C724.36,500.15 726.16,501.55 729.36,503.62 C732.57,505.69 733.91,506.33 736.57,507.97 C739.22,509.61 739.78,510.03 740.75,510.65" stroke-width="0.6"/>
<path d="M727.1,531.57 C726.04,533.68 725.69,534.47 723.58,538.61 C721.47,542.75 721.76,542.33 720.06,545.37 C718.35,548.42 718.54,547.74 717.89,548.76" stroke-width="1.6" stroke="#2c2c2c"/>
<path d="M724.93,534.55 C724.28,536.58 723.98,537.05 722.77,541.31 C721.55,545.58 721.44,546.53 720.87,548.76" stroke-width="0.9" stroke="#2c2c2c"/>
<path d="M728.99,531.84 C728.1,533.87 726.91,536.58 726.01,538.61" stroke-width="0.6"/>
<ellipse cx="728.72" cy="540.23" rx="1.62" ry="2.44" transform="rotate(10 728.72 540.23)" stroke-width="0.9"/>
<path d="M726.69,536.17 C727.3,535.68 727.38,534.63 728.72,534.55 C730.06,534.47 730.43,535.5 731.16,535.9" stroke-width="0.6"/>
<path d="M710.59,523.72 C710.83,526.16 710.42,526.97 711.4,531.84 C712.37,536.71 712.62,535.09 713.83,539.96 C715.05,544.83 714.65,543.82 715.46,548.08 C716.27,552.34 716.22,552.34 716.54,554.17" stroke-width="0.8"/>
<path d="M734.13,531.84 L730.35,542.67 L727.64,552.14 L726.69,560.53" stroke-width="0.8"/>
<path d="M743.61,534.55 L748.34,541.59 L761.2,550.79 L760.12,561.62 L756.06,568.65 L739.55,564.59 L726.69,560.53"/>
<path d="M748.34,541.59 L743.61,554.85 L739.55,564.59" stroke-width="0.7"/>
<path d="M743.61,554.85 L760.12,561.62" stroke-width="0.55"/>
<path d="M735.76,542.67 L739.55,545.37 L738.19,550.79 L734.13,556.2" stroke-width="0.55"/>
<ellipse cx="756.19" cy="558.91" rx="0.54" ry="1.35" transform="rotate(10 756.19 558.91)" stroke-width="1.2" stroke="#333"/>
<path d="M703.82,550.25 C700.37,550.29 701.22,549.81 698.95,551.6 C696.67,553.39 696.97,552.79 696.24,556.2 C695.51,559.61 695.5,559.52 696.51,562.97 C697.53,566.42 697.27,566.08 699.62,567.71 C701.98,569.33 701.11,568.59 704.36,568.38 C707.61,568.18 707.61,569.06 710.45,567.03 C713.29,565 712.98,565.07 713.83,561.62 C714.69,558.16 714.31,558.57 713.29,555.53 C712.28,552.48 713.29,553.05 710.45,551.47 C707.61,549.88 707.27,550.21 703.82,550.25 Z" fill="#fff"/>
<ellipse cx="700.57" cy="559.99" rx="3.65" ry="7.44" stroke-width="0.7"/>
<ellipse cx="707.61" cy="559.59" rx="4.87" ry="7.04" fill="#fff"/>
<ellipse cx="708.15" cy="559.72" rx="2.71" ry="4.06"/>
<path d="M710.45,551.47 C711.47,551.06 712.01,549.3 713.83,550.11 C715.66,550.92 715.73,552.95 716.54,554.17" stroke-width="0.7"/>
<path d="M713.83,561.62 L716.81,561.62 L726.69,560.53"/>
<path d="M713.29,564.32 L716.54,565.4 L723.98,571.36 L733.46,569.74 L739.55,564.59"/>
<path d="M715.46,562.7 L719.25,564.32 L725.74,569.19 L733.05,567.84" stroke-width="0.6"/>
<path d="M717.62,562.43 L721.95,564.86 L727.37,567.3 L734.13,565.95" stroke-width="0.6"/>
<path d="M720.6,561.62 L724.66,564.32 L730.35,565.4 L735.49,564.32" stroke-width="0.6"/>
<path d="M723.98,571.36 L724.39,568.38" stroke-width="0.6"/></g>
<g><ellipse cx="748.6" cy="492" rx="4.5" ry="8.6" fill="#5a5a5a" stroke="#3c3c3c" stroke-width="0.7"/>
<path d="M746.7,484.5 L748.2,484.7" stroke-width="0.45" stroke="#d0d0d0"/>
<path d="M745.81,485.75 L747.31,485.95" stroke-width="0.45" stroke="#d0d0d0"/>
<path d="M745.24,487 L746.74,487.2" stroke-width="0.45" stroke="#d0d0d0"/>
<path d="M744.85,488.25 L746.35,488.45" stroke-width="0.45" stroke="#d0d0d0"/>
<path d="M744.59,489.5 L746.09,489.7" stroke-width="0.45" stroke="#d0d0d0"/>
<path d="M744.45,490.75 L745.95,490.95" stroke-width="0.45" stroke="#d0d0d0"/>
<path d="M744.4,492 L745.9,492.2" stroke-width="0.45" stroke="#d0d0d0"/>
<path d="M744.45,493.25 L745.95,493.45" stroke-width="0.45" stroke="#d0d0d0"/>
<path d="M744.59,494.5 L746.09,494.7" stroke-width="0.45" stroke="#d0d0d0"/>
<path d="M744.85,495.75 L746.35,495.95" stroke-width="0.45" stroke="#d0d0d0"/>
<path d="M745.24,497 L746.74,497.2" stroke-width="0.45" stroke="#d0d0d0"/>
<path d="M745.81,498.25 L747.31,498.45" stroke-width="0.45" stroke="#d0d0d0"/>
<path d="M746.7,499.5 L748.2,499.7" stroke-width="0.45" stroke="#d0d0d0"/>
<ellipse cx="750.1" cy="492" rx="4.5" ry="8.3" fill="#fff"/>
<ellipse cx="752.7" cy="492" rx="4.5" ry="7.7" fill="#fff"/>
<ellipse cx="753.2" cy="492.4" rx="2.3" ry="3.6"/></g>
<g><ellipse cx="777.3" cy="538.1" rx="4.5" ry="8.6" fill="#5a5a5a" stroke="#3c3c3c" stroke-width="0.7"/>
<path d="M775.4,530.6 L776.9,530.8" stroke-width="0.45" stroke="#d0d0d0"/>
<path d="M774.51,531.85 L776.01,532.05" stroke-width="0.45" stroke="#d0d0d0"/>
<path d="M773.94,533.1 L775.44,533.3" stroke-width="0.45" stroke="#d0d0d0"/>
<path d="M773.55,534.35 L775.05,534.55" stroke-width="0.45" stroke="#d0d0d0"/>
<path d="M773.29,535.6 L774.79,535.8" stroke-width="0.45" stroke="#d0d0d0"/>
<path d="M773.15,536.85 L774.65,537.05" stroke-width="0.45" stroke="#d0d0d0"/>
<path d="M773.1,538.1 L774.6,538.3" stroke-width="0.45" stroke="#d0d0d0"/>
<path d="M773.15,539.35 L774.65,539.55" stroke-width="0.45" stroke="#d0d0d0"/>
<path d="M773.29,540.6 L774.79,540.8" stroke-width="0.45" stroke="#d0d0d0"/>
<path d="M773.55,541.85 L775.05,542.05" stroke-width="0.45" stroke="#d0d0d0"/>
<path d="M773.94,543.1 L775.44,543.3" stroke-width="0.45" stroke="#d0d0d0"/>
<path d="M774.51,544.35 L776.01,544.55" stroke-width="0.45" stroke="#d0d0d0"/>
<path d="M775.4,545.6 L776.9,545.8" stroke-width="0.45" stroke="#d0d0d0"/>
<ellipse cx="778.8" cy="538.1" rx="4.5" ry="8.3" fill="#fff"/>
<ellipse cx="781.4" cy="538.1" rx="4.5" ry="7.7" fill="#fff"/>
<ellipse cx="781.9" cy="538.5" rx="2.3" ry="3.6"/></g>
<g><ellipse cx="764.3" cy="569.4" rx="4.5" ry="8.6" fill="#5a5a5a" stroke="#3c3c3c" stroke-width="0.7"/>
<path d="M762.4,561.9 L763.9,562.1" stroke-width="0.45" stroke="#d0d0d0"/>
<path d="M761.51,563.15 L763.01,563.35" stroke-width="0.45" stroke="#d0d0d0"/>
<path d="M760.94,564.4 L762.44,564.6" stroke-width="0.45" stroke="#d0d0d0"/>
<path d="M760.55,565.65 L762.05,565.85" stroke-width="0.45" stroke="#d0d0d0"/>
<path d="M760.29,566.9 L761.79,567.1" stroke-width="0.45" stroke="#d0d0d0"/>
<path d="M760.15,568.15 L761.65,568.35" stroke-width="0.45" stroke="#d0d0d0"/>
<path d="M760.1,569.4 L761.6,569.6" stroke-width="0.45" stroke="#d0d0d0"/>
<path d="M760.15,570.65 L761.65,570.85" stroke-width="0.45" stroke="#d0d0d0"/>
<path d="M760.29,571.9 L761.79,572.1" stroke-width="0.45" stroke="#d0d0d0"/>
<path d="M760.55,573.15 L762.05,573.35" stroke-width="0.45" stroke="#d0d0d0"/>
<path d="M760.94,574.4 L762.44,574.6" stroke-width="0.45" stroke="#d0d0d0"/>
<path d="M761.51,575.65 L763.01,575.85" stroke-width="0.45" stroke="#d0d0d0"/>
<path d="M762.4,576.9 L763.9,577.1" stroke-width="0.45" stroke="#d0d0d0"/>
<ellipse cx="765.8" cy="569.4" rx="4.5" ry="8.3" fill="#fff"/>
<ellipse cx="768.4" cy="569.4" rx="4.5" ry="7.7" fill="#fff"/>
<ellipse cx="768.9" cy="569.8" rx="2.3" ry="3.6"/></g>
<g><path d="M785.46,565.72 C786.43,564.9 786.87,565.65 789.07,562.63 C791.27,559.6 790.55,559.69 793.71,554.38 C796.87,549.08 797.35,547.49 800.93,542.73 C804.5,537.98 803.26,538.69 807.11,536.55 C810.96,534.4 810.69,535.02 815.36,534.69 C820.03,534.36 820.52,534.04 824.64,535.31 C828.76,536.57 828.49,536.96 830.82,539.43 C833.16,541.91 832.52,541.98 833.4,544.59 C834.28,547.2 833.93,547.99 834.12,549.23" stroke-width="1.0" stroke="#3c3c3c"/>
<path d="M789.07,566.75 C789.81,565.85 789.85,566.46 791.86,563.35 C793.86,560.24 793.46,560.22 796.6,555.1 C799.73,549.99 800.47,548.19 803.61,544.18 C806.74,540.16 805.22,541.65 808.35,540.05 C811.48,538.46 811.29,538.53 815.36,538.2 C819.43,537.87 821.41,538.65 823.61,538.81" stroke-width="0.7"/>
<path d="M787.32,566.24 C788.14,565.41 788.32,566.22 790.41,563.14 C792.5,560.07 791.99,559.91 795.15,554.69 C798.32,549.47 798.91,547.9 802.27,543.56 C805.62,539.21 806.27,539.78 807.73,538.4" stroke-width="0.55"/>
<ellipse cx="781.55" cy="573.45" rx="6.19" ry="8.66" transform="rotate(8 781.55 573.45)" fill="#fff" stroke="#3c3c3c" stroke-width="1.0"/>
<ellipse cx="782.58" cy="573.66" rx="4.74" ry="7.22" transform="rotate(8 782.58 573.66)" stroke-width="0.7"/>
<ellipse cx="783.2" cy="573.87" rx="3.3" ry="5.15" transform="rotate(8 783.2 573.87)" stroke="#3c3c3c" stroke-width="0.9"/>
<path d="M783.4,581.7 C784.5,581.43 785.46,581.91 787.53,580.67 C789.59,579.43 789.9,578.99 791.13,577.06 C792.37,575.14 791.89,574.42 792.16,573.45" stroke-width="0.9" stroke="#3c3c3c"/>
<path d="M806.08,543.76 L808.35,540.46 L815.36,542.53 L818.45,541.29 L827.73,547.89 L827.73,550.26 L818.45,544.59 L815.36,546.13 L806.08,543.76" stroke-width="0.8"/>
<path d="M806.08,543.76 L805.57,546.65 L812.27,550.77 L815.36,546.13" stroke-width="0.7"/>
<path d="M812.27,550.77 L827.73,555.93 L827.73,550.26" stroke-width="0.7"/>
<path d="M805.57,546.65 L799.07,574.28" stroke-width="0.9"/>
<path d="M812.27,550.98 L805.26,576.55" stroke-width="0.6"/>
<path d="M817.63,552.63 L810.62,578.61" stroke-width="0.6"/>
<path d="M822.99,554.38 L815.98,580.67" stroke-width="0.6"/>
<path d="M827.73,555.93 L821.34,582.73" stroke-width="0.6"/>
<path d="M834.12,549.23 C833.52,551.01 832.19,553.04 831.86,555.93 C831.53,558.81 832.61,558.95 832.89,560.05" stroke-width="0.8"/>
<path d="M827.73,555.93 L831.86,559.54 L842.16,566.24 L843.81,571.6 L842.16,582.73 L834.12,590.98 L831.03,596.13" stroke-width="0.9" stroke="#3c3c3c"/>
<path d="M831.86,559.54 L830,568.3 L827.73,578.61 L821.34,582.73" stroke-width="0.7"/>
<path d="M833.4,561.08 L842.16,567.27" stroke-width="0.6"/>
<path d="M799.07,574.28 L821.34,582.73 L827.73,578.61" stroke-width="0.8"/>
<path d="M792.16,573.45 L791.13,577.06 L797.01,581.19 L804.54,587.37 L811.24,592.22 L819.48,594.28 L831.03,596.13" stroke-width="0.9" stroke="#3c3c3c"/>
<path d="M799.07,574.28 L797.01,581.19" stroke-width="0.7"/>
<path d="M797.84,577.06 L818.45,586.86 L831.86,582.73 L842.16,582.73" stroke-width="0.6"/>
<path d="M800.93,582.73 L815.36,590.98 L819.48,594.28" stroke-width="0.6"/>
<path d="M802.99,585.31 L816.6,592.53" stroke-width="0.6"/>
<path d="M818.45,586.86 L819.48,594.28" stroke-width="0.6"/>
<path d="M821.34,582.73 L818.45,586.86" stroke-width="0.6"/>
<path d="M831.44,571.39 L835.98,568.81 L841.65,573.45 L841.13,578.61 L837.01,581.49 L831.86,577.06 Z" stroke-width="0.9" stroke="#3c3c3c"/>
<path d="M833.09,572.63 L835.98,570.98 L839.69,574.28 L839.28,577.78 L836.8,579.43 L833.3,576.13 Z" fill="#555" fill-opacity="0.75" stroke="#3c3c3c" stroke-width="0.8"/>
<path d="M834.54,573.45 L838.04,576.55 L837.53,578.09" stroke="#e8e8e8" stroke-width="0.8"/>
<path d="M835.98,572.63 L838.87,575.52" stroke="#e8e8e8" stroke-width="0.7"/></g>
<g transform="rotate(12.6 794.8 499.9)"><path d="M788.2,497.5 L774.2,497.5 A1,2.4 0 0 0 774.2,502.3 L788.2,502.3 Z" fill="#a6a6a6" fill-opacity="0.8" stroke="#666" stroke-width="0.6"/>
<path d="M787.4,497.5 L786.9,502.3" stroke-width="0.4" stroke="#777"/>
<path d="M786,497.5 L785.5,502.3" stroke-width="0.4" stroke="#777"/>
<path d="M784.6,497.5 L784.1,502.3" stroke-width="0.4" stroke="#777"/>
<path d="M783.2,497.5 L782.7,502.3" stroke-width="0.4" stroke="#777"/>
<path d="M781.8,497.5 L781.3,502.3" stroke-width="0.4" stroke="#777"/>
<path d="M780.4,497.5 L779.9,502.3" stroke-width="0.4" stroke="#777"/>
<path d="M779,497.5 L778.5,502.3" stroke-width="0.4" stroke="#777"/>
<path d="M777.6,497.5 L777.1,502.3" stroke-width="0.4" stroke="#777"/>
<path d="M776.2,497.5 L775.7,502.3" stroke-width="0.4" stroke="#777"/>
<path d="M774.8,497.5 L774.3,502.3" stroke-width="0.4" stroke="#777"/>
<path d="M788.2,497.5 L790.8,495.3 L797.8,495.3 A2,4.6 0 0 1 797.8,504.5 L790.8,504.5 L788.2,502.3 Z" fill="#fff"/>
<path d="M790.8,495.3 A2,4.6 0 0 0 790.8,504.5" stroke-width="0.5"/>
<ellipse cx="797.8" cy="499.9" rx="2" ry="4.6" fill="#fff"/>
<ellipse cx="797.9" cy="499.9" rx="1.2" ry="2.9" stroke-width="0.9"/>
<path d="M797.9,498.5 L797.9,501.3" stroke-width="0.6"/></g>
<g><ellipse cx="850.5" cy="551.4" rx="4.3" ry="6.8" fill="#8e8e8e" stroke="#444"/>
<ellipse cx="851.9" cy="551.4" rx="4.1" ry="6.4" fill="#b4b4b4" stroke="#444" stroke-width="0.7"/>
<ellipse cx="852.6" cy="551.6" rx="2.2" ry="3.7" fill="#fff" stroke="#444"/>
<path d="M849.6,546.8 L851.8,548 M848.4,551.8 L850.6,552.4 M849.8,556.4 L851.8,555" stroke-width="0.9" stroke="#444"/>
<path d="M854,548.6 A2.2,3.7 0 0 0 854,554.6" stroke="#fff" stroke-width="1.2"/></g>
<g><ellipse cx="852.2" cy="585.6" rx="4.3" ry="6.8" fill="#8e8e8e" stroke="#444"/>
<ellipse cx="853.6" cy="585.6" rx="4.1" ry="6.4" fill="#b4b4b4" stroke="#444" stroke-width="0.7"/>
<ellipse cx="854.3" cy="585.8" rx="2.2" ry="3.7" fill="#fff" stroke="#444"/>
<path d="M851.3,581 L853.5,582.2 M850.1,586 L852.3,586.6 M851.5,590.6 L853.5,589.2" stroke-width="0.9" stroke="#444"/>
<path d="M855.7,582.8 A2.2,3.7 0 0 0 855.7,588.8" stroke="#fff" stroke-width="1.2"/></g>
<g transform="rotate(10.5 901.6 561.4)"><path d="M895,559 L881.5,559 A1,2.4 0 0 0 881.5,563.8 L895,563.8 Z" fill="#a6a6a6" fill-opacity="0.8" stroke="#666" stroke-width="0.6"/>
<path d="M894.2,559 L893.7,563.8" stroke-width="0.4" stroke="#777"/>
<path d="M892.8,559 L892.3,563.8" stroke-width="0.4" stroke="#777"/>
<path d="M891.4,559 L890.9,563.8" stroke-width="0.4" stroke="#777"/>
<path d="M890,559 L889.5,563.8" stroke-width="0.4" stroke="#777"/>
<path d="M888.6,559 L888.1,563.8" stroke-width="0.4" stroke="#777"/>
<path d="M887.2,559 L886.7,563.8" stroke-width="0.4" stroke="#777"/>
<path d="M885.8,559 L885.3,563.8" stroke-width="0.4" stroke="#777"/>
<path d="M884.4,559 L883.9,563.8" stroke-width="0.4" stroke="#777"/>
<path d="M883,559 L882.5,563.8" stroke-width="0.4" stroke="#777"/>
<path d="M895,559 L897.6,556.8 L904.6,556.8 A2,4.6 0 0 1 904.6,566 L897.6,566 L895,563.8 Z" fill="#fff"/>
<path d="M897.6,556.8 A2,4.6 0 0 0 897.6,566" stroke-width="0.5"/>
<ellipse cx="904.6" cy="561.4" rx="2" ry="4.6" fill="#fff"/>
<ellipse cx="904.7" cy="561.4" rx="1.2" ry="2.9" stroke-width="0.9"/>
<path d="M904.7,560 L904.7,562.8" stroke-width="0.6"/></g>
<g transform="rotate(10.5 899 593.4)"><path d="M892.4,591 L878.9,591 A1,2.4 0 0 0 878.9,595.8 L892.4,595.8 Z" fill="#a6a6a6" fill-opacity="0.8" stroke="#666" stroke-width="0.6"/>
<path d="M891.6,591 L891.1,595.8" stroke-width="0.4" stroke="#777"/>
<path d="M890.2,591 L889.7,595.8" stroke-width="0.4" stroke="#777"/>
<path d="M888.8,591 L888.3,595.8" stroke-width="0.4" stroke="#777"/>
<path d="M887.4,591 L886.9,595.8" stroke-width="0.4" stroke="#777"/>
<path d="M886,591 L885.5,595.8" stroke-width="0.4" stroke="#777"/>
<path d="M884.6,591 L884.1,595.8" stroke-width="0.4" stroke="#777"/>
<path d="M883.2,591 L882.7,595.8" stroke-width="0.4" stroke="#777"/>
<path d="M881.8,591 L881.3,595.8" stroke-width="0.4" stroke="#777"/>
<path d="M880.4,591 L879.9,595.8" stroke-width="0.4" stroke="#777"/>
<path d="M892.4,591 L895,588.8 L902,588.8 A2,4.6 0 0 1 902,598 L895,598 L892.4,595.8 Z" fill="#fff"/>
<path d="M895,588.8 A2,4.6 0 0 0 895,598" stroke-width="0.5"/>
<ellipse cx="902" cy="593.4" rx="2" ry="4.6" fill="#fff"/>
<ellipse cx="902.1" cy="593.4" rx="1.2" ry="2.9" stroke-width="0.9"/>
<path d="M902.1,592 L902.1,594.8" stroke-width="0.6"/></g>
<path d="M675.3,450.6 L669.5,451 L657,466.6" stroke="#8a8a8a" stroke-width="0.6"/>

<path d="M703.3,454 L697,454.5 L688.8,471.2" stroke="#8a8a8a" stroke-width="0.6"/>

<path d="M597,474.8 L601.9,475.2 L609.4,484.6" stroke="#8a8a8a" stroke-width="0.6"/>

<path d="M623.1,476.7 L628,477 L635.8,487.4" stroke="#8a8a8a" stroke-width="0.6"/>

<path d="M596,521.6 L600,526.4 L611.5,530.4" stroke="#8a8a8a" stroke-width="0.6"/>

<path d="M629.9,571.7 L635.7,571.7 L645.6,555.6" stroke="#8a8a8a" stroke-width="0.6"/>

<path d="M656,576.2 L661.8,576.2 L672.4,561.8" stroke="#8a8a8a" stroke-width="0.6"/>

<path d="M708,590 L715,590 L725.5,571.4" stroke="#8a8a8a" stroke-width="0.6"/>

<path d="M775,468.8 L768.1,469.2 L756,485" stroke="#8a8a8a" stroke-width="0.6"/>

<path d="M813.4,479.2 L807.3,479.6 L796,497" stroke="#8a8a8a" stroke-width="0.6"/>

<path d="M801.2,520.3 L794.3,520.8 L784,533.8" stroke="#8a8a8a" stroke-width="0.6"/>

<path d="M749,594.7 L755.9,594.7 L764.6,578.4" stroke="#8a8a8a" stroke-width="0.6"/>

<path d="M792.6,607.6 L798.7,607.2 L807.3,591.8" stroke="#8a8a8a" stroke-width="0.6"/>

<path d="M872.2,529.3 L866,529.8 L854,545" stroke="#8a8a8a" stroke-width="0.6"/>

<path d="M836.7,608.9 L842.8,608.9 L851.4,592.6" stroke="#8a8a8a" stroke-width="0.6"/>

<path d="M919.4,576.4 L914.6,576.4 L906.6,566" stroke="#8a8a8a" stroke-width="0.6"/>
<path d="M914.6,576.4 L904,589" stroke="#8a8a8a" stroke-width="0.6"/>

<path d="M361.6,589.3 L397.3,552.2 L429.3,518.7" stroke="#6e6e6e" stroke-width="0.6" stroke-dasharray="13 2.4 1.8 2.4" stroke-linecap="butt"/>
<path d="M512.4,558 L512.4,613" stroke="#6e6e6e" stroke-width="0.6" stroke-dasharray="13 2.4 1.8 2.4" stroke-linecap="butt"/>
<path d="M654,358.6 L613.4,432 L578,426.5 L565.5,449" stroke="#6e6e6e" stroke-width="0.6" stroke-dasharray="13 2.4 1.8 2.4" stroke-linecap="butt"/>
<g><path d="M428.4,611.8 C434,609 446,605.6 456,602.4 C470,598.4 484,597 492,592.6 C495,590.4 497,589.4 500,589.4 L586,604.8 C589.6,605.4 589.8,607 587.4,608.6 C578,614 562,622 546,629 C542,630.8 539,631.6 536,631 L433,615 C428,614.2 427,612.6 428.4,611.8 Z" stroke-width="0.9"/>
<path d="M456,606.4 C457.63,605.28 457.4,603.56 463,601.6 C468.6,599.64 472.3,598.75 480,598 C487.7,597.25 489.84,598.12 496,598.4 C502.16,598.68 503.6,598.64 506.4,599.2 C509.2,599.76 503.89,600.24 508,600.8 C512.11,601.36 519.1,601.97 524,601.6 C528.9,601.23 527.13,599.85 529,599.2 C530.87,598.55 527.94,598.15 532,598.8 C536.06,599.45 543.6,600.6 546.4,602 C549.2,603.4 543.63,603.77 544,604.8 C544.37,605.83 544.27,605.19 548,606.4 C551.73,607.61 555.24,608.6 560,610 C564.76,611.4 567.47,610.77 568.4,612.4 C569.33,614.03 568.76,614.53 564,617 C559.24,619.47 554.07,621.27 548,623 C541.93,624.73 542.67,624.87 538,624.4 C533.33,623.93 533.6,622.21 528,621 C522.4,619.79 520.53,619.62 514,619.2 C507.47,618.78 506.53,619.67 500,619.2 C493.47,618.73 492.07,618.32 486,617.2 C479.93,616.08 478.2,616.08 474,614.4 C469.8,612.72 472.2,611.87 468,610 C463.8,608.13 458.8,607.24 456,606.4" stroke-width="0.8"/>
<ellipse cx="501" cy="593.4" rx="4" ry="1.5" transform="rotate(4 501 593.4)"/>
<ellipse cx="439.6" cy="611.6" rx="4" ry="1.5" transform="rotate(4 439.6 611.6)"/>
<ellipse cx="576" cy="606.4" rx="4" ry="1.5" transform="rotate(4 576 606.4)"/>
<ellipse cx="531" cy="628.4" rx="4" ry="1.5" transform="rotate(4 531 628.4)"/>
<path d="M444,615.6 C444,613.68 444.92,613.62 449.6,612 C454.28,610.38 453.84,610.44 459.6,610.2 C465.36,609.96 464.6,609.88 468.8,611.2 C473,612.52 473.84,612.56 473.6,614.6 C473.36,616.64 472.68,616.68 468,618 C463.32,619.32 463.52,618.88 458,619 C452.48,619.12 453.8,619.42 449.6,618.4 C445.4,617.38 444,617.52 444,615.6 Z" stroke="#444" stroke-width="2.2"/>
<path d="M444,615.6 C444,613.68 444.92,613.62 449.6,612 C454.28,610.38 453.84,610.44 459.6,610.2 C465.36,609.96 464.6,609.88 468.8,611.2 C473,612.52 473.84,612.56 473.6,614.6 C473.36,616.64 472.68,616.68 468,618 C463.32,619.32 463.52,618.88 458,619 C452.48,619.12 453.8,619.42 449.6,618.4 C445.4,617.38 444,617.52 444,615.6 Z" stroke="#e6e6e6" stroke-width="0.6"/>
<path d="M448.8,615.2 C448.8,614.06 449.28,613.96 452.4,613 C455.52,612.04 455.24,612.12 459.2,612 C463.16,611.88 462.72,611.82 465.6,612.6 C468.48,613.38 468.92,613.4 468.8,614.6 C468.68,615.8 468.32,615.82 465.2,616.6 C462.08,617.38 462.24,617.14 458.4,617.2 C454.56,617.26 455.28,617.4 452.4,616.8 C449.52,616.2 448.8,616.34 448.8,615.2 Z" stroke="#555" stroke-width="0.7"/>
<path d="M498.8,625.4 C498.8,623.48 499.72,623.42 504.4,621.8 C509.08,620.18 508.64,620.24 514.4,620 C520.16,619.76 519.4,619.68 523.6,621 C527.8,622.32 528.64,622.36 528.4,624.4 C528.16,626.44 527.48,626.48 522.8,627.8 C518.12,629.12 518.32,628.68 512.8,628.8 C507.28,628.92 508.6,629.22 504.4,628.2 C500.2,627.18 498.8,627.32 498.8,625.4 Z" stroke="#444" stroke-width="2.2"/>
<path d="M498.8,625.4 C498.8,623.48 499.72,623.42 504.4,621.8 C509.08,620.18 508.64,620.24 514.4,620 C520.16,619.76 519.4,619.68 523.6,621 C527.8,622.32 528.64,622.36 528.4,624.4 C528.16,626.44 527.48,626.48 522.8,627.8 C518.12,629.12 518.32,628.68 512.8,628.8 C507.28,628.92 508.6,629.22 504.4,628.2 C500.2,627.18 498.8,627.32 498.8,625.4 Z" stroke="#e6e6e6" stroke-width="0.6"/>
<path d="M503.6,625 C503.6,623.86 504.08,623.76 507.2,622.8 C510.32,621.84 510.04,621.92 514,621.8 C517.96,621.68 517.52,621.62 520.4,622.4 C523.28,623.18 523.72,623.2 523.6,624.4 C523.48,625.6 523.12,625.62 520,626.4 C516.88,627.18 517.04,626.94 513.2,627 C509.36,627.06 510.08,627.2 507.2,626.6 C504.32,626 503.6,626.14 503.6,625 Z" stroke="#555" stroke-width="0.7"/></g>
<g><path d="M395.46,545.46 C395.15,544.07 393.97,543.3 394.43,540.82 C394.9,538.35 394.69,538.55 397.01,537.22 C399.33,535.89 399.16,535.71 402.16,536.39 C405.16,537.07 404.38,537.75 407.01,539.48 C409.64,541.22 408.36,541.05 410.93,542.16 C413.49,543.28 412.94,543.51 415.57,543.2 C418.2,542.89 417.22,542 419.69,541.13 C422.16,540.27 421.19,539.94 423.81,540.31 C426.44,540.68 425.82,540.36 428.45,542.37 C431.08,544.38 430.26,544.85 432.58,547.01 C434.9,549.18 433.4,548.81 436.19,549.59 C438.97,550.36 438.45,549.9 441.86,549.59 C445.26,549.28 444.43,548.09 447.53,548.56 C450.62,549.02 450.4,548.97 452.16,551.13 C453.93,553.3 453.71,552.99 453.4,555.77 C453.09,558.56 452.74,558.31 451.13,560.41 C449.53,562.52 448.35,560.62 448.04,562.78 C447.73,564.95 448.71,564.47 450.1,567.63 C451.49,570.78 450.82,570.05 452.68,573.3 C454.54,576.55 455.05,575.36 456.29,578.45 C457.53,581.55 457.58,580.98 456.8,583.61 C456.03,586.24 456.03,586.04 453.71,587.22 C451.39,588.39 451.7,588.3 449.07,587.53 C446.44,586.75 446.74,586.74 444.95,584.64 C443.15,582.54 443.65,581.75 443.09,580.52" stroke="#3a3a3a" stroke-width="1.1" fill="#fff"/>
<path d="M397.01,545.46 C396.79,544.29 395.89,543.46 396.29,541.55 C396.69,539.63 396.68,540 398.35,539.07 C400.02,538.14 399.63,537.93 401.86,538.45 C404.08,538.98 403.3,539.28 405.77,540.82 C408.25,542.37 407.16,542.4 410.1,543.61 C413.04,544.81 412.54,545.03 415.57,544.85 C418.6,544.66 417.73,543.79 420.21,542.99 C422.68,542.19 421.71,541.92 423.81,542.16 C425.92,542.41 424.96,541.96 427.22,543.81 C429.47,545.67 428.8,546.15 431.34,548.35 C433.88,550.55 432.64,550.27 435.67,551.13 C438.7,552 439.71,551.21 441.44,551.24" stroke="#3a3a3a" stroke-width="0.8"/>
<ellipse cx="401.13" cy="542.16" rx="4.12" ry="2.06" transform="rotate(32 401.13 542.16)" stroke="#3a3a3a" stroke-width="1.2"/>
<ellipse cx="401.13" cy="542.16" rx="2.68" ry="1.13" transform="rotate(32 401.13 542.16)" stroke="#3a3a3a" stroke-width="0.7"/>
<ellipse cx="425.36" cy="545.67" rx="4.12" ry="2.06" transform="rotate(35 425.36 545.67)" stroke="#3a3a3a" stroke-width="1.2"/>
<ellipse cx="425.36" cy="545.67" rx="2.68" ry="1.13" transform="rotate(35 425.36 545.67)" stroke="#3a3a3a" stroke-width="0.7"/>
<path d="M407.01,539.48 C408.19,539.73 408.21,539.69 410.93,540.31 C413.65,540.93 413.45,541.3 416.08,541.55 C418.71,541.79 418.61,541.26 419.69,541.13" stroke="#3a3a3a" stroke-width="1.0"/>
<path d="M428.45,542.37 C430,543.3 430.82,543.76 433.61,545.46 C436.39,547.16 435.26,546.8 437.73,548.04 C440.21,549.28 440.62,549.12 441.86,549.59" stroke="#3a3a3a" stroke-width="1.0"/>
<ellipse cx="444.95" cy="557.32" rx="3.3" ry="3.71" stroke="#3a3a3a" stroke-width="0.9"/>
<ellipse cx="444.95" cy="557.32" rx="1.75" ry="2.06" stroke="#3a3a3a" stroke-width="0.8"/>
<ellipse cx="448.04" cy="583.09" rx="3.3" ry="3.71" stroke="#3a3a3a" stroke-width="0.9"/>
<ellipse cx="448.04" cy="583.09" rx="1.75" ry="2.06" stroke="#3a3a3a" stroke-width="0.8"/>
<path d="M441.86,552.16 C441.55,553.56 440.82,553.87 440.82,556.8 C440.82,559.74 440.77,559.48 441.86,561.96 C442.94,564.43 443.2,562.27 444.43,565.05 C445.67,567.84 445.98,567.99 445.98,571.24 C445.98,574.48 445.3,573.09 444.43,575.88 C443.57,578.66 443.49,579.12 443.09,580.52" stroke="#3a3a3a" stroke-width="1.0"/>
<path d="M447.01,564.02 C447.57,565.88 448.71,566.8 448.87,570.21 C449.02,573.61 447.93,573.81 447.53,575.36" stroke="#3a3a3a" stroke-width="1.2"/>
<path d="M445.98,562.78 C445.42,564.55 444.37,565.2 444.12,568.66 C443.88,572.12 444.85,572.63 445.15,574.33" stroke="#3a3a3a" stroke-width="0.7"/>
<path d="M390,568.35 C391.33,566.12 391.56,566.09 394.43,560.93 C397.31,555.76 396.49,554.78 399.59,551.13 C402.68,547.48 400.41,549.85 404.74,548.76 C409.07,547.68 408.14,547.28 414.02,547.53 C419.9,547.77 418.45,547.42 424.33,549.59 C430.21,551.75 428.81,550.72 433.61,554.74 C438.4,558.76 437.37,557.73 440.31,562.99 C443.25,568.25 442.57,567.01 443.4,572.27 C444.24,577.53 445.41,575.88 443.09,580.52 C440.77,585.15 440.65,582.66 435.67,587.73 C430.69,592.8 429.25,594.52 426.49,597.42" fill="#fff"/>
<path d="M399.59,551.13 C399.22,550.36 399.28,549.95 398.35,548.56 C397.42,547.16 397.05,547.11 396.49,546.49" stroke-width="0.7"/>
<path d="M396.49,546.49 C396.19,547.27 395.31,547.68 395.46,549.07 C395.62,550.46 395.62,550.73 397.01,551.13 C398.4,551.54 399.18,550.63 400.1,550.41" stroke-width="0.8" stroke="#3a3a3a"/>
<ellipse cx="407.05" cy="584.4" rx="24" ry="13.6" transform="rotate(39 407.05 584.4)" fill="#fff" stroke="#666"/>
<ellipse cx="407.95" cy="585.1" rx="22.4" ry="12.3" transform="rotate(39 407.95 585.1)" stroke="#666" stroke-width="0.7"/>
<path d="M412.3,601.3 L424,584.6" stroke-width="0.7"/></g>
<g><g transform="translate(348.5,604.5) rotate(-52.82)"><path d="M2,-2.3 L17.6,-2.3 A1,2.3 0 0 1 17.6,2.3 L2,2.3 Z" fill="#9a9a9a" fill-opacity="0.7"/>
<path d="M8,-2.3 L8.4,2.3" stroke-width="0.45"/><path d="M9.3,-2.3 L9.7,2.3" stroke-width="0.45"/><path d="M10.6,-2.3 L11,2.3" stroke-width="0.45"/><path d="M11.9,-2.3 L12.3,2.3" stroke-width="0.45"/><path d="M13.2,-2.3 L13.6,2.3" stroke-width="0.45"/><path d="M14.5,-2.3 L14.9,2.3" stroke-width="0.45"/><path d="M15.8,-2.3 L16.2,2.3" stroke-width="0.45"/><path d="M17.1,-2.3 L17.5,2.3" stroke-width="0.45"/>
<path d="M0,-5 L4,-4.2 L6,-2.3 L6,2.3 L4,4.2 L0,5" fill="#fff"/></g>
<ellipse cx="348.5" cy="604.5" rx="4.9" ry="5.4" transform="rotate(-35 348.5 604.5)" fill="#fff" stroke="#3c3c3c" stroke-width="0.9"/>
<ellipse cx="348.3" cy="604.7" rx="3.1" ry="3.5" transform="rotate(-35 348.3 604.7)" stroke-width="0.8" stroke="#3c3c3c"/>
<path d="M346.4,603 L350.2,606.4 M350.2,603.2 L346.6,606.2 M348.3,602.2 L348.3,607.2" stroke-width="0.7" stroke="#3c3c3c"/></g>
<g><path d="M666.48,266.25 C666.48,264.25 666.45,263.61 668.18,262.16 C669.91,260.7 670.22,261.03 672.95,260.79 C675.68,260.56 675.5,260.6 678.4,261.27 C681.31,261.94 681.13,261.99 683.86,263.32 C686.58,264.64 686.9,264.56 688.63,266.25 C690.36,267.94 689.97,267.38 690.33,269.66 C690.7,271.93 690.81,272.31 689.99,274.77 C689.18,277.22 689.08,277.19 687.27,278.86 C685.45,280.53 685.18,280.64 683.18,281.04 C681.18,281.44 682.31,281.94 679.77,280.36 C677.22,278.78 676.72,277.96 673.63,275.11 C670.54,272.26 670.09,272.02 668.18,269.66 C666.27,267.29 666.48,268.25 666.48,266.25 Z" stroke="#333" stroke-width="1.0" fill="#fff"/>
<path d="M667.5,267.61 C668.04,268.52 667.63,268.84 669.54,271.02 C671.45,273.2 671.75,273.3 674.66,275.79 C677.56,278.28 678.9,279.14 680.45,280.36" stroke="#333" stroke-width="1.2"/>
<path d="M668.86,265.22 C669.5,264.77 669.25,264.07 671.25,263.52 C673.25,262.98 673.54,262.82 676.36,263.18 C679.18,263.54 679.18,263.7 681.81,264.88 C684.45,266.07 684.7,266.07 686.24,267.61 C687.79,269.16 687.24,269.86 687.61,270.68" stroke-width="0.7"/>
<ellipse cx="678.27" cy="271.36" rx="5.32" ry="3.82" transform="rotate(30 678.27 271.36)" fill="#8a8a8a" fill-opacity="0.55" stroke="#333" stroke-width="1.0"/>
<ellipse cx="678.27" cy="271.36" rx="3.54" ry="2.45" transform="rotate(30 678.27 271.36)" fill="#fff" stroke="#333" stroke-width="1.1"/>
<ellipse cx="678.54" cy="271.5" rx="2.04" ry="1.36" transform="rotate(30 678.54 271.5)" stroke="#333" stroke-width="1.0"/>
<ellipse cx="678.81" cy="271.63" rx="0.82" ry="0.55" transform="rotate(30 678.81 271.63)" stroke-width="0.8"/>
<ellipse cx="669.54" cy="267.27" rx="1.36" ry="1.77" transform="rotate(30 669.54 267.27)" fill="#777" fill-opacity="0.6" stroke="#333" stroke-width="0.9"/>
<ellipse cx="685.22" cy="276.68" rx="1.5" ry="1.23" transform="rotate(30 685.22 276.68)" fill="#777" fill-opacity="0.6" stroke="#333" stroke-width="0.9"/>
<path d="M672.27,265.91 C672.82,266.63 673.95,267 674.31,268.63 C674.68,270.27 673.82,271.13 673.63,272.04" stroke="#333" stroke-width="0.9"/>
<path d="M683.18,268.63 C683.54,269.54 684.72,270.22 684.54,272.04 C684.36,273.86 683.04,274.54 682.49,275.45" stroke="#333" stroke-width="0.9"/>
<path d="M704.99,272.38 C705.72,271.96 705.72,271.36 707.72,270.81 C709.72,270.27 709.76,270.28 712.49,270.34 C715.21,270.39 715.21,270.42 717.94,271.02 C720.67,271.62 720.26,271.22 722.71,272.59 C725.17,273.95 725.42,274.37 727.14,276.13 C728.87,277.89 728.83,277.65 729.19,279.2 C729.55,280.74 729.51,280.53 728.51,281.93 C727.51,283.33 727.71,283.08 725.44,284.45 C723.17,285.81 722.89,285.98 719.99,287.04 C717.08,288.09 716.71,288 714.53,288.4 C712.35,288.8 712.53,288.5 711.81,288.54" stroke="#333" stroke-width="1.0" fill="#fff"/>
<path d="M707.72,273.4 C708.81,273.04 709.44,272.19 711.81,272.04 C714.17,271.9 714.58,271.95 716.58,272.86 C718.58,273.77 718.76,273.85 719.3,275.45 C719.85,277.05 719.9,277.04 718.62,278.86 C717.35,280.68 716.17,280.99 714.53,282.27 C712.9,283.54 713.03,283.27 712.49,283.63" stroke="#333" stroke-width="0.9"/>
<path d="M707.03,272.04 C707.58,272.26 707.81,272.86 709.08,272.86 C710.35,272.86 711.08,272.26 711.81,272.04" stroke="#333" stroke-width="1.4"/>
<path d="M719.3,275.45 C720.21,275.27 720.99,274.4 722.71,274.77 C724.44,275.13 724.51,275.54 725.78,276.81 C727.05,278.09 727.03,278.81 727.48,279.54" stroke-width="0.8"/>
<path d="M718.62,278.86 C719.35,279.26 720.53,279.09 721.35,280.36 C722.17,281.63 722.05,282.12 721.69,283.63 C721.33,285.14 720.44,285.38 719.99,286.02" stroke-width="0.8"/>
<path d="M714.53,284.99 C715.81,284.63 716.76,284.45 719.3,283.63 C721.85,282.81 721.99,283.02 724.08,281.93 C726.17,280.84 726.33,280.18 727.14,279.54" stroke-width="0.7"/>
<path d="M713.85,286.49 C715.12,286.2 716.08,286.17 718.62,285.4 C721.17,284.64 722.12,284.1 723.39,283.63" stroke="#333" stroke-width="0.9"/>
<ellipse cx="727.48" cy="279.68" rx="0.55" ry="1.09" stroke="#333" stroke-width="0.9"/>
<path d="M689.31,266.45 L692.04,265.36 L698.17,263.86 L700.9,265.22 L712.49,287.72 L710.78,289.9 L707.03,298.08 L692.72,293.17 L692.04,282.27 L688.63,275.45 Z" fill="#fff" stroke="#333" stroke-width="1.0"/>
<path d="M689.31,266.45 L695.45,274.77 L692.04,282.27" stroke="#333" stroke-width="0.9"/>
<path d="M695.45,274.77 L703.63,287.04 L707.03,298.08" stroke-width="0.8"/>
<path d="M696.81,275.45 L704.99,285.67 L707.72,287.04 L710.78,289.9" stroke="#333" stroke-width="1.0"/>
<path d="M698.17,277.49 L703.63,284.99 L700.9,290.45 L695.45,282.95 Z" stroke-width="0.8"/>
<path d="M700.9,290.45 L707.03,293.17 L709.08,289.08" stroke-width="0.8"/>
<path d="M703.63,287.04 L704.31,295.9" stroke-width="0.7"/>
<path d="M692.04,290.45 L698.17,293.17 L704.31,295.9" stroke-width="0.7"/>
<path d="M696.81,275.45 L696.13,278.18 L700.9,284.99" stroke="#333" stroke-width="1.3"/>
<path d="M692.86,266.04 L698.58,264.13 L712.62,287.58 L710.58,289.22 Z" fill="#fff" stroke="#333" stroke-width="1.1"/>
<path d="M680.45,283.63 C679.76,284.54 678.77,284.86 677.86,287.04 C676.95,289.22 676.81,289.45 677.04,291.81 C677.28,294.17 677.11,294.23 678.75,295.9 C680.38,297.57 680.9,297.72 683.18,298.08 C685.45,298.44 685.45,298.39 687.27,297.26 C689.08,296.14 688.99,296.04 689.99,293.85 C690.99,291.67 690.29,291.45 691.02,289.08 C691.74,286.72 692.27,286.08 692.72,284.99" fill="#fff" stroke="#333" stroke-width="1.0"/>
<ellipse cx="686.72" cy="282.95" rx="6.27" ry="2.86" transform="rotate(18 686.72 282.95)" fill="#fff" stroke="#333" stroke-width="1.0"/>
<path d="M680.18,284.45 C681.34,285.14 682.1,286.13 684.54,287.04 C686.98,287.95 687.17,288 689.31,287.86 C691.46,287.71 691.71,286.86 692.58,286.49" stroke="#333" stroke-width="2.0"/>
<path d="M678.54,287.72 C679.6,288.45 680.17,289.54 682.49,290.45 C684.82,291.36 685.05,291.31 687.27,291.13 C689.48,290.95 689.87,290.13 690.81,289.76" stroke="#333" stroke-width="1.6"/>
<path d="M677.59,290.45 C678.71,291.17 679.41,292.26 681.81,293.17 C684.21,294.08 684.33,294.07 686.58,293.85 C688.84,293.64 689.28,292.76 690.27,292.36" stroke-width="0.8"/>
<ellipse cx="682.63" cy="294.54" rx="3.82" ry="2.32" transform="rotate(18 682.63 294.54)" fill="#999" fill-opacity="0.5" stroke-width="0.8"/>
<ellipse cx="682.77" cy="294.67" rx="2.32" ry="1.36" transform="rotate(18 682.77 294.67)" stroke-width="0.7"/></g>
<g><path d="M664.19,306.19 C664.31,304.75 664.83,304.33 665.72,302.67 C666.61,301.01 666.64,300.81 667.53,299.96 C668.42,299.12 668.27,299.34 669.06,299.51 C669.86,299.68 669.93,299.83 670.51,300.6 C671.08,301.37 669.74,301.97 671.23,302.4 C672.72,302.83 673.12,301.79 676.1,302.22 C679.09,302.65 679.89,302.58 682.42,304.03 C684.95,305.47 684.86,305.47 685.58,307.64 C686.3,309.8 685.78,310.17 685.13,312.15 C684.48,314.12 684.58,314.12 683.14,315.04 C681.7,315.95 682.07,315.82 679.71,315.58 C677.35,315.34 677.18,315.29 674.3,314.13 C671.41,312.98 671.29,312.86 668.88,311.25 C666.47,309.63 666.52,309.43 665.27,308.09 C664.02,306.74 664.07,307.64 664.19,306.19 Z" fill="#fff" stroke-width="0.9"/>
<path d="M671.23,302.4 C670.84,302.95 670.89,303.37 669.78,304.48 C668.68,305.58 668.28,305.59 667.08,306.55 C665.87,307.52 665.75,307.68 665.27,308.09" stroke-width="0.6"/>
<path d="M667.08,306.55 C668.28,307.08 668.94,307.77 671.59,308.54 C674.24,309.31 674.31,309.2 677,309.44 C679.7,309.68 680.45,309.44 681.7,309.44" stroke="#3a3a3a" stroke-width="1.2"/>
<path d="M681.7,309.44 C681.89,310.16 682.03,310.66 682.42,312.15 C682.8,313.64 682.95,314.27 683.14,315.04" stroke-width="0.7"/>
<path d="M685.58,307.64 C685.1,308 684.81,308.51 683.77,308.99 C682.74,309.47 682.25,309.32 681.7,309.44" stroke-width="0.6"/></g>
<g><path d="M661.66,317.74 C662.13,317.04 662.56,316.59 663.65,316.3 C664.73,316.01 665.49,316.05 667.08,316.3 C668.66,316.55 669.78,316.77 671.59,317.56 C673.39,318.36 674.77,319.15 676.1,320.27 C677.44,321.39 677.91,322.17 678.27,323.16 C678.63,324.15 679.46,321.48 677.91,325.23 C676.35,328.99 672.31,338.38 670.51,341.93 C668.7,345.49 670.11,342.83 668.88,343.01 C667.65,343.19 666.35,343.27 664.37,342.83 C662.38,342.4 660.83,341.97 658.95,340.85 C657.08,339.73 655.92,338.43 654.98,337.24 C654.04,336.05 653,338.38 654.26,334.89 C655.52,331.41 659.82,323.25 661.3,319.82 C662.78,316.39 661.19,318.45 661.66,317.74 Z" fill="#c3c3c3" stroke="#3a3a3a" stroke-width="1.0"/>
<ellipse cx="662.56" cy="338.86" rx="8.3" ry="3.61" transform="rotate(26 662.56 338.86)" fill="#cdcdcd" stroke="#3a3a3a" stroke-width="0.9"/>
<ellipse cx="662.92" cy="339.22" rx="6.86" ry="2.71" transform="rotate(26 662.92 339.22)" fill="#d6d6d6" stroke="#3a3a3a" stroke-width="0.6"/></g>
<g><ellipse cx="656.59" cy="349.69" rx="9.58" ry="4.33" transform="rotate(22 656.59 349.69)" stroke-width="0.9"/>
<ellipse cx="657.06" cy="350.46" rx="8.66" ry="3.71" transform="rotate(22 657.06 350.46)" stroke-width="0.7"/>
<path d="M659.68,345.52 C660.47,345.7 661.15,345.12 662.31,346.14 C663.47,347.16 662.25,347.62 663.55,348.92 C664.85,350.22 665.25,349.17 666.64,350.46 C668.03,351.76 667.81,351.39 668.18,353.25 C668.55,355.1 668.71,355.44 667.87,356.65 C667.04,357.85 666.14,357.08 665.4,357.26" stroke-width="0.8"/>
<path d="M663.24,348.92 C663.7,349.94 664.13,349.81 664.78,352.32 C665.43,354.82 665.22,355.78 665.4,357.26" stroke-width="0.7"/>
<path d="M666.64,350.46 C667.19,351.48 668.49,352.29 668.49,353.86 C668.49,355.44 667.19,355.16 666.64,355.72" stroke-width="0.6"/></g>
<path d="M754,294.6 C756.8,294.6 757.7,295.6 757.7,298 L757.7,335.4 C757.7,337.4 758.6,338.4 760.4,338.6 C758.6,338.8 757.7,339.8 757.7,341.8 L757.7,379.2 C757.7,381.4 756.8,382.4 754,382.4" stroke="#333" stroke-width="1.1"/>
<path d="M374.7,525 C375.36,525.03 379.97,524.7 381.3,525.3 C382.63,525.9 386.55,529.77 388,531 C389.45,532.23 395.02,536.94 395.8,537.6" stroke="#8a8a8a" stroke-width="0.6"/>

<path d="M326,588.5 C326.58,588.53 330.6,588.25 331.8,588.8 C333,589.35 336.69,592.93 338,594 C339.31,595.07 344.21,598.95 344.9,599.5" stroke="#8a8a8a" stroke-width="0.6"/>

<path d="M583.6,610 L596,625 L602,625" stroke="#8a8a8a" stroke-width="0.6"/>



<path d="M713,292.5 L725.4,303.3 L729.7,303.3" stroke="#8a8a8a" stroke-width="0.6"/>

<path d="M686,311.8 C690.27,313.61 693.15,314.33 702,318.6 C710.85,322.87 711.81,324.87 719.2,327.8 C726.59,330.73 726.9,329.12 729.7,329.6" stroke="#8a8a8a" stroke-width="0.6"/>

<path d="M676.7,330.4 C682.38,332.85 686.19,334.27 698,339.6 C709.81,344.93 712.55,347.31 721,350.4 C729.45,353.49 727.38,350.99 729.7,351.2" stroke="#8a8a8a" stroke-width="0.6"/>

<path d="M668.2,355.1 C674.01,357.1 677.25,357.72 690,362.6 C702.75,367.48 705.41,370.2 716,373.4 C726.59,376.6 726.05,374.28 729.7,374.6" stroke="#8a8a8a" stroke-width="0.6"/>


<g stroke="none" style="filter:grayscale(1);font-family:'Liberation Sans',sans-serif"><g fill="#111" font-size="14.67" font-weight="bold"><text x="192.4" y="75.3">2</text><text x="200.66" y="75.3">T</text><path transform="translate(210.63,75.3) scale(0.49)" d="M10.2,0 L5.2,0 L5.2,-15.1 Q2.9,-13 0.2,-11.9 L0,-15.9 Q4.6,-17.7 6.4,-21.5 L10.2,-21.5 Z"/><text x="217.98" y="75.3">2</text><text x="226.24" y="75.3">5</text><text x="234.49" y="75.3">F</text><text x="243.56" y="75.3">I</text><text x="247.69" y="75.3">M</text><text x="260.05" y="75.3">X</text><text x="269.96" y="75.3">2</text><text x="278.21" y="75.3">5</text></g><g fill="#111" font-size="14.67" font-weight="bold"><text x="192.4" y="97.3">2</text><text x="200.67" y="97.3">T</text><text x="209.76" y="97.3"> </text><path transform="translate(214.8,97.3) scale(0.49)" d="M10.2,0 L5.2,0 L5.2,-15.1 Q2.9,-13 0.2,-11.9 L0,-15.9 Q4.6,-17.7 6.4,-21.5 L10.2,-21.5 Z"/><text x="222.16" y="97.3">2</text><text x="230.44" y="97.3">5</text><text x="238.71" y="97.3"> </text><text x="242.84" y="97.3">F</text><text x="251.93" y="97.3">i</text><text x="256.06" y="97.3"> </text><text x="260.19" y="97.3">M</text><text x="272.59" y="97.3">X</text><text x="282.51" y="97.3"> </text><text x="286.64" y="97.3">E</text><text x="296.56" y="97.3">S</text></g><g fill="#111" font-size="14.67" font-weight="bold"><text x="576.2" y="75.3">C</text><text x="586.91" y="75.3">I</text><text x="591.03" y="75.3">L</text><text x="600.09" y="75.3">I</text><text x="604.21" y="75.3">N</text><text x="614.92" y="75.3">D</text><text x="625.63" y="75.3">R</text><text x="636.34" y="75.3">O</text><text x="647.88" y="75.3"> </text><text x="652" y="75.3">0</text><path transform="translate(661.16,75.3) scale(0.49)" d="M10.2,0 L5.2,0 L5.2,-15.1 Q2.9,-13 0.2,-11.9 L0,-15.9 Q4.6,-17.7 6.4,-21.5 L10.2,-21.5 Z"/><text x="668.5" y="75.3"> </text><text x="672.62" y="75.3">-</text><text x="677.56" y="75.3"> </text><path transform="translate(682.59,75.3) scale(0.49)" d="M10.2,0 L5.2,0 L5.2,-15.1 Q2.9,-13 0.2,-11.9 L0,-15.9 Q4.6,-17.7 6.4,-21.5 L10.2,-21.5 Z"/><text x="689.92" y="75.3">2</text><text x="698.17" y="75.3">5</text><text x="706.42" y="75.3"> </text><text x="710.54" y="75.3">F</text><text x="719.6" y="75.3">i</text><text x="723.72" y="75.3"> </text><text x="727.84" y="75.3">M</text><text x="740.2" y="75.3">X</text><text x="750.09" y="75.3">/</text><text x="754.21" y="75.3">E</text><text x="764.1" y="75.3">N</text></g><g fill="#111" font-size="14.67" font-weight="bold"><text x="576.2" y="97.3">C</text><text x="586.91" y="97.3">Y</text><text x="596.8" y="97.3">L</text><text x="605.86" y="97.3">I</text><text x="609.98" y="97.3">N</text><text x="620.69" y="97.3">D</text><text x="631.4" y="97.3">E</text><text x="641.3" y="97.3">R</text><text x="652.01" y="97.3"> </text><text x="656.13" y="97.3">0</text><path transform="translate(665.29,97.3) scale(0.49)" d="M10.2,0 L5.2,0 L5.2,-15.1 Q2.9,-13 0.2,-11.9 L0,-15.9 Q4.6,-17.7 6.4,-21.5 L10.2,-21.5 Z"/><text x="672.62" y="97.3"> </text><text x="676.74" y="97.3">-</text><text x="681.68" y="97.3"> </text><path transform="translate(686.71,97.3) scale(0.49)" d="M10.2,0 L5.2,0 L5.2,-15.1 Q2.9,-13 0.2,-11.9 L0,-15.9 Q4.6,-17.7 6.4,-21.5 L10.2,-21.5 Z"/><text x="694.05" y="97.3">2</text><text x="702.3" y="97.3">5</text><text x="710.55" y="97.3"> </text><text x="714.67" y="97.3">F</text><text x="723.73" y="97.3">i</text><text x="727.85" y="97.3"> </text><text x="731.97" y="97.3">M</text><text x="744.32" y="97.3">X</text><text x="754.22" y="97.3">/</text><text x="758.34" y="97.3">E</text><text x="768.23" y="97.3">N</text></g><g fill="#222" font-size="12" font-weight="normal"><path transform="translate(53.46,719.2) scale(0.4)" d="M8,0 L5.35,0 L5.35,-16.8 Q3.2,-14.8 0,-13.3 L0,-15.9 Q4.4,-18.2 6.3,-21.5 L8,-21.5 Z"/><text x="58.94" y="719.2">8</text><text x="65.68" y="719.2">/</text><path transform="translate(70.31,719.2) scale(0.4)" d="M8,0 L5.35,0 L5.35,-16.8 Q3.2,-14.8 0,-13.3 L0,-15.9 Q4.4,-18.2 6.3,-21.5 L8,-21.5 Z"/><path transform="translate(77.05,719.2) scale(0.4)" d="M8,0 L5.35,0 L5.35,-16.8 Q3.2,-14.8 0,-13.3 L0,-15.9 Q4.4,-18.2 6.3,-21.5 L8,-21.5 Z"/><text x="82.52" y="719.2">/</text><text x="85.89" y="719.2">2</text><text x="92.63" y="719.2">0</text><text x="99.37" y="719.2">2</text><text x="106.11" y="719.2">4</text></g><g fill="#222" font-size="12" font-weight="normal"><text x="1003" y="719.2">4</text><path transform="translate(1011.13,719.2) scale(0.4)" d="M8,0 L5.35,0 L5.35,-16.8 Q3.2,-14.8 0,-13.3 L0,-15.9 Q4.4,-18.2 6.3,-21.5 L8,-21.5 Z"/><text x="1016.75" y="719.2"> </text><text x="1020.18" y="719.2">/</text><text x="1023.61" y="719.2"> </text><text x="1027.05" y="719.2">7</text><path transform="translate(1035.18,719.2) scale(0.4)" d="M8,0 L5.35,0 L5.35,-16.8 Q3.2,-14.8 0,-13.3 L0,-15.9 Q4.4,-18.2 6.3,-21.5 L8,-21.5 Z"/></g></g>
<g class="lb" stroke="none" style="filter:grayscale(1)"><g fill="#2b2b2b" font-size="11"><path transform="translate(348.28,288.8) scale(0.37)" d="M10.2,0 L5.2,0 L5.2,-15.1 Q2.9,-13 0.2,-11.9 L0,-15.9 Q4.6,-17.7 6.4,-21.5 L10.2,-21.5 Z"/><text x="353.72" y="288.8">5</text></g><g fill="#2b2b2b" font-size="11"><path transform="translate(348.28,316.7) scale(0.37)" d="M10.2,0 L5.2,0 L5.2,-15.1 Q2.9,-13 0.2,-11.9 L0,-15.9 Q4.6,-17.7 6.4,-21.5 L10.2,-21.5 Z"/><text x="353.72" y="316.7">4</text></g><g fill="#2b2b2b" font-size="11"><text x="347.6" y="339.4">9</text></g><g fill="#2b2b2b" font-size="11"><path transform="translate(348.28,368.4) scale(0.37)" d="M10.2,0 L5.2,0 L5.2,-15.1 Q2.9,-13 0.2,-11.9 L0,-15.9 Q4.6,-17.7 6.4,-21.5 L10.2,-21.5 Z"/><text x="353.72" y="368.4">3</text></g><g fill="#2b2b2b" font-size="11"><path transform="translate(470.08,158) scale(0.37)" d="M10.2,0 L5.2,0 L5.2,-15.1 Q2.9,-13 0.2,-11.9 L0,-15.9 Q4.6,-17.7 6.4,-21.5 L10.2,-21.5 Z"/><text x="475.52" y="158">9</text></g><g fill="#2b2b2b" font-size="11"><path transform="translate(540.88,205.2) scale(0.37)" d="M10.2,0 L5.2,0 L5.2,-15.1 Q2.9,-13 0.2,-11.9 L0,-15.9 Q4.6,-17.7 6.4,-21.5 L10.2,-21.5 Z"/><text x="546.32" y="205.2">8</text></g><g fill="#2b2b2b" font-size="11"><text x="432.3" y="227.5">20</text></g><g fill="#2b2b2b" font-size="11"><path transform="translate(577.08,223.6) scale(0.37)" d="M10.2,0 L5.2,0 L5.2,-15.1 Q2.9,-13 0.2,-11.9 L0,-15.9 Q4.6,-17.7 6.4,-21.5 L10.2,-21.5 Z"/><text x="582.52" y="223.6">7</text></g><g fill="#2b2b2b" font-size="11"><path transform="translate(583.48,371.1) scale(0.37)" d="M10.2,0 L5.2,0 L5.2,-15.1 Q2.9,-13 0.2,-11.9 L0,-15.9 Q4.6,-17.7 6.4,-21.5 L10.2,-21.5 Z"/><text x="588.92" y="371.1">0</text></g><g fill="#2b2b2b" font-size="11"><text x="584.4" y="388.8">9</text></g><g fill="#2b2b2b" font-size="11"><text x="677.4" y="454">6</text></g><g fill="#2b2b2b" font-size="11"><text x="706.8" y="458.2">4</text></g><g fill="#2b2b2b" font-size="11"><text x="589.5" y="478.2">6</text></g><g fill="#2b2b2b" font-size="11"><text x="616" y="479.8">4</text></g><g fill="#2b2b2b" font-size="11"><text x="613.6" y="533.8">7</text></g><g fill="#2b2b2b" font-size="11"><text x="621.8" y="575.4">6</text></g><g fill="#2b2b2b" font-size="11"><text x="647.8" y="579.6">4</text></g><g fill="#2b2b2b" font-size="11"><text x="700.4" y="593.4">5</text></g><g fill="#2b2b2b" font-size="11"><text x="776.4" y="472.4">4</text></g><g fill="#2b2b2b" font-size="11"><path transform="translate(817.28,484) scale(0.37)" d="M10.2,0 L5.2,0 L5.2,-15.1 Q2.9,-13 0.2,-11.9 L0,-15.9 Q4.6,-17.7 6.4,-21.5 L10.2,-21.5 Z"/></g><g fill="#2b2b2b" font-size="11"><text x="802.8" y="524.4">4</text></g><g fill="#2b2b2b" font-size="11"><text x="741.6" y="597.6">4</text></g><g fill="#2b2b2b" font-size="11"><text x="783.6" y="611.4">3</text></g><g fill="#2b2b2b" font-size="11"><text x="873.8" y="533.6">2</text></g><g fill="#2b2b2b" font-size="11"><text x="828.4" y="613.4">2</text></g><g fill="#2b2b2b" font-size="11"><path transform="translate(922.08,579.2) scale(0.37)" d="M10.2,0 L5.2,0 L5.2,-15.1 Q2.9,-13 0.2,-11.9 L0,-15.9 Q4.6,-17.7 6.4,-21.5 L10.2,-21.5 Z"/></g><g fill="#2b2b2b" font-size="11"><path transform="translate(360.48,529.7) scale(0.37)" d="M10.2,0 L5.2,0 L5.2,-15.1 Q2.9,-13 0.2,-11.9 L0,-15.9 Q4.6,-17.7 6.4,-21.5 L10.2,-21.5 Z"/><text x="365.92" y="529.7">2</text></g><g fill="#2b2b2b" font-size="11"><path transform="translate(312.48,592.3) scale(0.37)" d="M10.2,0 L5.2,0 L5.2,-15.1 Q2.9,-13 0.2,-11.9 L0,-15.9 Q4.6,-17.7 6.4,-21.5 L10.2,-21.5 Z"/><path transform="translate(318.6,592.3) scale(0.37)" d="M10.2,0 L5.2,0 L5.2,-15.1 Q2.9,-13 0.2,-11.9 L0,-15.9 Q4.6,-17.7 6.4,-21.5 L10.2,-21.5 Z"/></g><g fill="#2b2b2b" font-size="11"><text x="604" y="628.2">8</text></g><g fill="#000" font-size="11"><text x="604" y="640.2">26</text></g><g fill="#000" font-size="11"><text x="604" y="652.4">à 29</text></g><g fill="#2b2b2b" font-size="11"><text x="732" y="306.4">2</text><path transform="translate(738.8,306.4) scale(0.37)" d="M10.2,0 L5.2,0 L5.2,-15.1 Q2.9,-13 0.2,-11.9 L0,-15.9 Q4.6,-17.7 6.4,-21.5 L10.2,-21.5 Z"/></g><g fill="#2b2b2b" font-size="11"><text x="732" y="332.4">22</text></g><g fill="#2b2b2b" font-size="11"><text x="732" y="355">23</text></g><g fill="#2b2b2b" font-size="11"><text x="732" y="378.1">24</text></g><g fill="#2b2b2b" font-size="11"><text x="765.6" y="342.7">25</text></g></g>
</g>
</svg>
</body>
</html>
